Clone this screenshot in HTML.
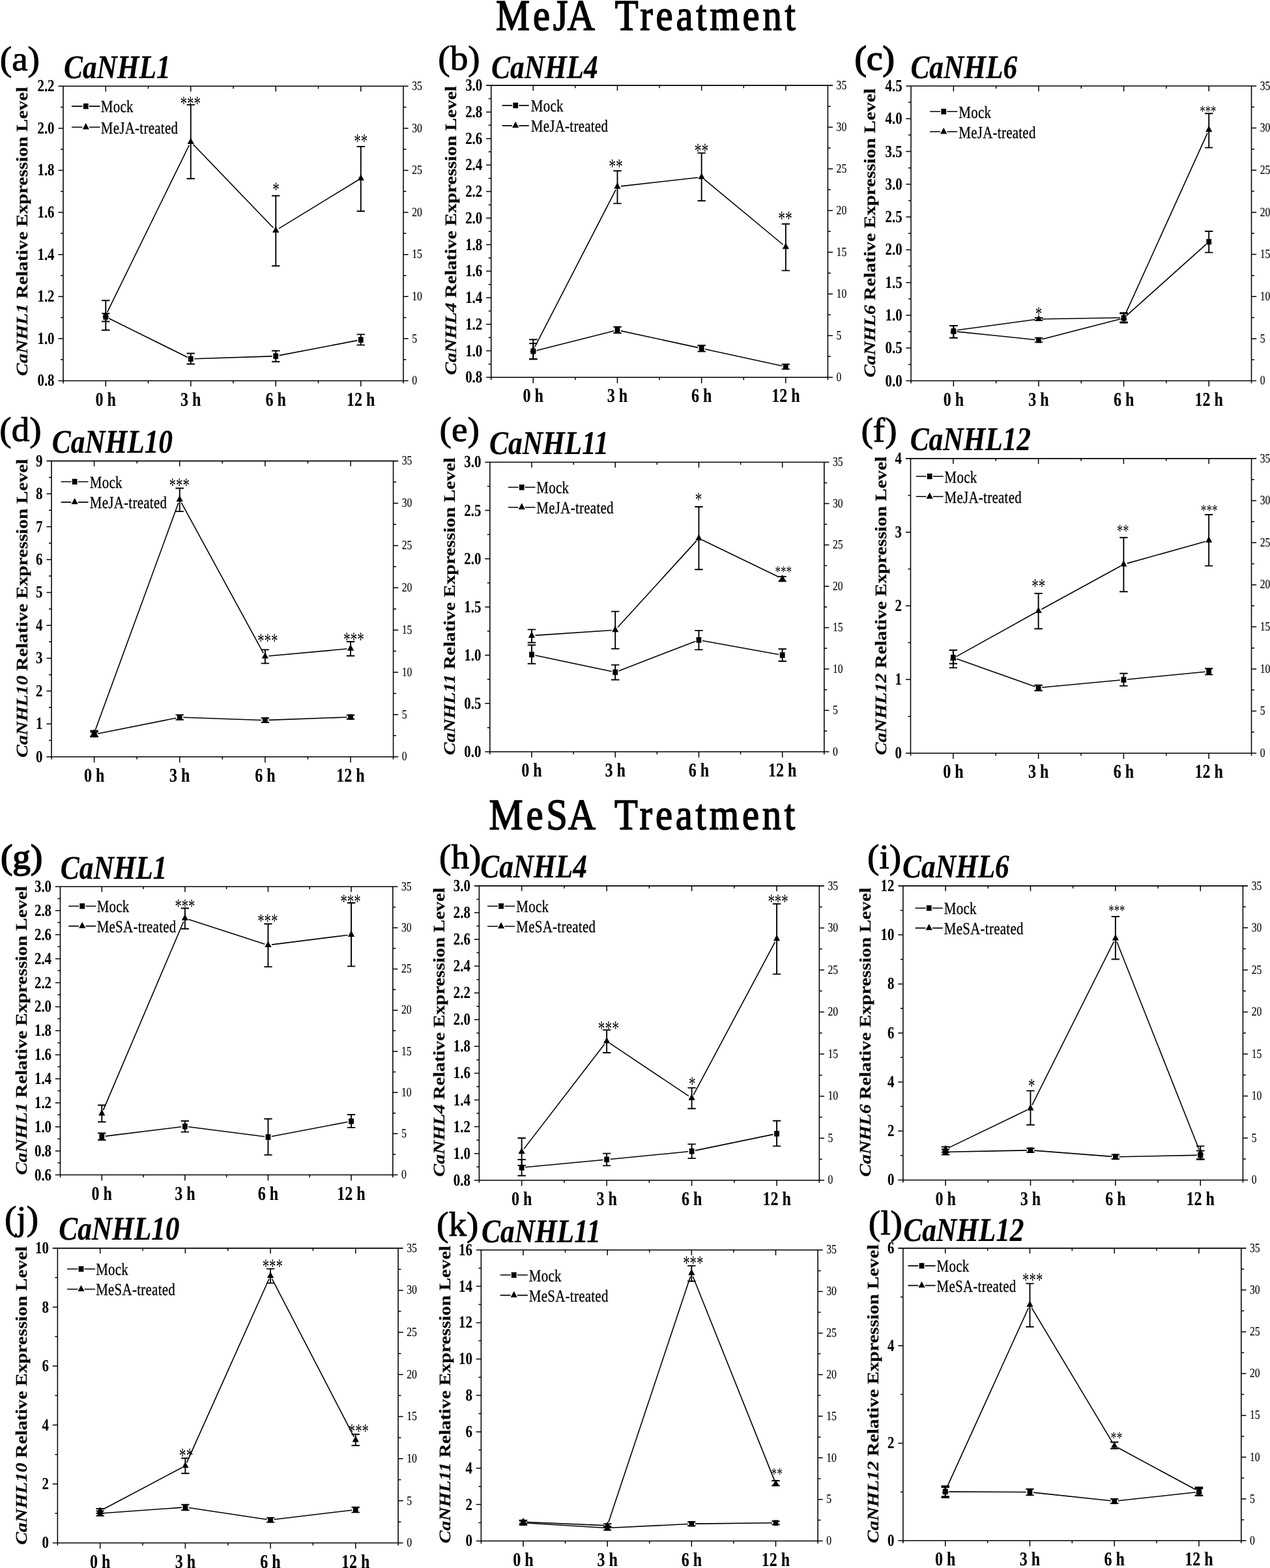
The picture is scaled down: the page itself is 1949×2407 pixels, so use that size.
<!DOCTYPE html>
<html lang="en">
<head>
<meta charset="utf-8">
<title>MeJA and MeSA Treatment - CaNHL relative expression</title>
<style>
html,body{margin:0;padding:0;background:#fff;}
body{width:1949px;height:2407px;overflow:hidden;}
svg{display:block;font-family:'Liberation Serif', 'DejaVu Serif', serif;fill:#000;}
svg path{stroke:#000;}
svg g[fill="#000"] path{stroke:none;}
</style>
</head>
<body>
<svg width="1949" height="2407" viewBox="0 0 1949 2407" text-rendering="geometricPrecision">
<rect x="0" y="0" width="1949" height="2407" fill="#fff"/>
<g>
<g fill="none" stroke="#000" stroke-width="1.55">
<path d="M89.40 132.30H626.60M89.40 584.40H626.60M97.00 132.30V588.40M619.00 132.30V588.40"/>
<path stroke-width="1.50" d="M162.25 584.40v8.80M162.25 132.30v8.20M292.75 584.40v8.80M292.75 132.30v8.20M423.25 584.40v8.80M423.25 132.30v8.20M553.75 584.40v8.80M553.75 132.30v8.20M227.50 584.40v4.00M227.50 132.30v4.00M358.00 584.40v4.00M358.00 132.30v4.00M488.50 584.40v4.00M488.50 132.30v4.00M97.00 552.11h-4.00M97.00 519.81h-7.60M97.00 487.52h-4.00M97.00 455.23h-7.60M97.00 422.94h-4.00M97.00 390.64h-7.60M97.00 358.35h-4.00M97.00 326.06h-7.60M97.00 293.76h-4.00M97.00 261.47h-7.60M97.00 229.18h-4.00M97.00 196.89h-7.60M97.00 164.59h-4.00M619.00 552.11h4.40M619.00 519.81h7.60M619.00 487.52h4.40M619.00 455.23h7.60M619.00 422.94h4.40M619.00 390.64h7.60M619.00 358.35h4.40M619.00 326.06h7.60M619.00 293.76h4.40M619.00 261.47h7.60M619.00 229.18h4.40M619.00 196.89h7.60M619.00 164.59h4.40"/>
<path stroke-width="1.60" d="M167.18 488.84L287.82 548.46M298.25 550.72L417.75 546.88M428.65 545.66L548.35 522.64"/>
<path d="M162.25 481.10V493.50M156.05 481.10H168.45M156.05 493.50H168.45" stroke-width="1.90"/>
<path d="M292.75 542.50V558.70M286.55 542.50H298.95M286.55 558.70H298.95" stroke-width="1.90"/>
<path d="M423.25 538.50V555.30M417.05 538.50H429.45M417.05 555.30H429.45" stroke-width="1.90"/>
<path d="M553.75 513.40V529.60M547.55 513.40H559.95M547.55 529.60H559.95" stroke-width="1.90"/>
<path stroke-width="1.60" d="M164.67 479.06L290.33 222.74M296.56 221.77L419.44 349.73M427.94 350.83L549.06 276.77"/>
<path d="M162.25 461.20V506.80M156.05 461.20H168.45M156.05 506.80H168.45" stroke-width="1.90"/>
<path d="M292.75 160.90V274.20M286.55 160.90H298.95M286.55 274.20H298.95" stroke-width="1.90"/>
<path d="M423.25 300.50V408.30M417.05 300.50H429.45M417.05 408.30H429.45" stroke-width="1.90"/>
<path d="M553.75 225.00V324.20M547.55 225.00H559.95M547.55 324.20H559.95" stroke-width="1.90"/>
<path stroke-width="1.60" d="M110.00 163.10H126.55M136.95 163.10H153.50M110.00 195.30H126.55M136.95 195.30H153.50"/>
</g>
<g fill="#000">
<rect x="158.35" y="482.10" width="7.80" height="8.60"/>
<path d="M162.25 477.60L167.35 487.20L157.15 487.20Z"/>
<rect x="288.85" y="546.60" width="7.80" height="8.60"/>
<path d="M292.75 211.40L297.85 221.00L287.65 221.00Z"/>
<rect x="419.35" y="542.40" width="7.80" height="8.60"/>
<path d="M423.25 347.30L428.35 356.90L418.15 356.90Z"/>
<rect x="549.85" y="517.30" width="7.80" height="8.60"/>
<path d="M553.75 267.50L558.85 277.10L548.65 277.10Z"/>
<rect x="127.85" y="158.80" width="7.80" height="8.60"/>
<path d="M131.75 188.90L136.85 198.50L126.65 198.50Z"/>
</g>
<g font-weight="bold">
<text transform="translate(83.50 592.40) scale(0.8000 1)" font-size="26.00" text-anchor="end" stroke="#000" stroke-width="0.12" stroke-linejoin="round">0.8</text>
<text transform="translate(83.50 527.81) scale(0.8000 1)" font-size="26.00" text-anchor="end" stroke="#000" stroke-width="0.12" stroke-linejoin="round">1.0</text>
<text transform="translate(83.50 463.23) scale(0.8000 1)" font-size="26.00" text-anchor="end" stroke="#000" stroke-width="0.12" stroke-linejoin="round">1.2</text>
<text transform="translate(83.50 398.64) scale(0.8000 1)" font-size="26.00" text-anchor="end" stroke="#000" stroke-width="0.12" stroke-linejoin="round">1.4</text>
<text transform="translate(83.50 334.06) scale(0.8000 1)" font-size="26.00" text-anchor="end" stroke="#000" stroke-width="0.12" stroke-linejoin="round">1.6</text>
<text transform="translate(83.50 269.47) scale(0.8000 1)" font-size="26.00" text-anchor="end" stroke="#000" stroke-width="0.12" stroke-linejoin="round">1.8</text>
<text transform="translate(83.50 204.89) scale(0.8000 1)" font-size="26.00" text-anchor="end" stroke="#000" stroke-width="0.12" stroke-linejoin="round">2.0</text>
<text transform="translate(83.50 140.30) scale(0.8000 1)" font-size="26.00" text-anchor="end" stroke="#000" stroke-width="0.12" stroke-linejoin="round">2.2</text>
<text transform="translate(162.25 622.50) scale(0.8000 1)" font-size="30.00" text-anchor="middle" stroke="#000" stroke-width="0.15" stroke-linejoin="round">0 h</text>
<text transform="translate(292.75 622.50) scale(0.8000 1)" font-size="30.00" text-anchor="middle" stroke="#000" stroke-width="0.15" stroke-linejoin="round">3 h</text>
<text transform="translate(423.25 622.50) scale(0.8000 1)" font-size="30.00" text-anchor="middle" stroke="#000" stroke-width="0.15" stroke-linejoin="round">6 h</text>
<text transform="translate(553.75 622.50) scale(0.8000 1)" font-size="30.00" text-anchor="middle" stroke="#000" stroke-width="0.15" stroke-linejoin="round">12 h</text>
</g>
<text transform="translate(632.20 590.10) scale(0.8000 1)" font-size="19.60" stroke="#000" stroke-width="0.15" stroke-linejoin="round">0</text>
<text transform="translate(632.20 525.51) scale(0.8000 1)" font-size="19.60" stroke="#000" stroke-width="0.15" stroke-linejoin="round">5</text>
<text transform="translate(632.20 460.93) scale(0.8000 1)" font-size="19.60" stroke="#000" stroke-width="0.15" stroke-linejoin="round">10</text>
<text transform="translate(632.20 396.34) scale(0.8000 1)" font-size="19.60" stroke="#000" stroke-width="0.15" stroke-linejoin="round">15</text>
<text transform="translate(632.20 331.76) scale(0.8000 1)" font-size="19.60" stroke="#000" stroke-width="0.15" stroke-linejoin="round">20</text>
<text transform="translate(632.20 267.17) scale(0.8000 1)" font-size="19.60" stroke="#000" stroke-width="0.15" stroke-linejoin="round">25</text>
<text transform="translate(632.20 202.59) scale(0.8000 1)" font-size="19.60" stroke="#000" stroke-width="0.15" stroke-linejoin="round">30</text>
<text transform="translate(632.20 138.00) scale(0.8000 1)" font-size="19.60" stroke="#000" stroke-width="0.15" stroke-linejoin="round">35</text>
<text transform="translate(154.80 172.40) scale(0.8050 1)" font-size="26.00" letter-spacing="0.35" stroke="#000" stroke-width="0.30" stroke-linejoin="round">Mock</text>
<text transform="translate(154.80 204.60) scale(0.8050 1)" font-size="26.00" letter-spacing="0.35" stroke="#000" stroke-width="0.30" stroke-linejoin="round">MeJA-treated</text>
<text transform="translate(292.30 169.11) scale(0.6660 1)" font-size="31.21" text-anchor="middle">***</text>
<text transform="translate(423.60 301.05) scale(0.6660 1)" font-size="31.50" text-anchor="middle">*</text>
<text transform="translate(553.80 226.96) scale(0.6660 1)" font-size="31.52" text-anchor="middle">**</text>
<text transform="translate(-0.20 107.70) scale(1.0400 1)" font-size="53.00" stroke="#000" stroke-width="1.00" stroke-linejoin="round">(a)</text>
<text transform="translate(98.00 120.00) scale(0.8492 1)" font-size="51.00" font-weight="bold" font-style="italic" stroke="#000" stroke-width="0.20" stroke-linejoin="round">CaNHL1</text>
<text transform="translate(42.20 355.30) rotate(-90) scale(1.1880 1)" font-size="24.80" text-anchor="middle" font-weight="bold" stroke="#000" stroke-width="0.15" stroke-linejoin="round"><tspan font-style="italic">CaNHL1</tspan> Relative Expression Level</text>
</g>
<g>
<g fill="none" stroke="#000" stroke-width="1.55">
<path d="M746.12 131.14H1278.02M746.12 579.33H1278.02M753.72 131.14V583.33M1270.42 131.14V583.33"/>
<path stroke-width="1.50" d="M818.30 579.33v8.80M818.30 131.14v8.20M947.48 579.33v8.80M947.48 131.14v8.20M1076.66 579.33v8.80M1076.66 131.14v8.20M1205.83 579.33v8.80M1205.83 131.14v8.20M882.89 579.33v4.00M882.89 131.14v4.00M1012.07 579.33v4.00M1012.07 131.14v4.00M1141.24 579.33v4.00M1141.24 131.14v4.00M753.72 558.95h-4.00M753.72 538.58h-7.60M753.72 518.21h-4.00M753.72 497.84h-7.60M753.72 477.47h-4.00M753.72 457.09h-7.60M753.72 436.72h-4.00M753.72 416.35h-7.60M753.72 395.98h-4.00M753.72 375.61h-7.60M753.72 355.23h-4.00M753.72 334.86h-7.60M753.72 314.49h-4.00M753.72 294.12h-7.60M753.72 273.75h-4.00M753.72 253.37h-7.60M753.72 233.00h-4.00M753.72 212.63h-7.60M753.72 192.26h-4.00M753.72 171.88h-7.60M753.72 151.51h-4.00M1270.42 547.31h4.40M1270.42 515.30h7.60M1270.42 483.29h4.40M1270.42 451.27h7.60M1270.42 419.26h4.40M1270.42 387.25h7.60M1270.42 355.23h4.40M1270.42 323.22h7.60M1270.42 291.21h4.40M1270.42 259.19h7.60M1270.42 227.18h4.40M1270.42 195.17h7.60M1270.42 163.15h4.40"/>
<path stroke-width="1.60" d="M823.64 537.92L942.15 508.03M952.85 507.86L1071.28 533.60M1082.03 535.94L1200.46 561.68"/>
<path d="M818.30 527.28V551.24M812.10 527.28H824.50M812.10 551.24H824.50" stroke-width="1.90"/>
<path d="M947.48 501.82V511.18M941.28 501.82H953.68M941.28 511.18H953.68" stroke-width="1.90"/>
<path d="M1076.66 530.28V539.64M1070.46 530.28H1082.86M1070.46 539.64H1082.86" stroke-width="1.90"/>
<path d="M1205.83 559.11V566.60M1199.63 559.11H1212.03M1199.63 566.60H1212.03" stroke-width="1.90"/>
<path stroke-width="1.60" d="M820.82 532.50L944.96 291.42M952.95 285.91L1071.19 272.54M1080.89 275.43L1201.60 375.50"/>
<path d="M818.30 521.29V551.24M812.10 521.29H824.50M812.10 551.24H824.50" stroke-width="1.90"/>
<path d="M947.48 262.19V312.36M941.28 262.19H953.68M941.28 312.36H953.68" stroke-width="1.90"/>
<path d="M1076.66 234.86V308.24M1070.46 234.86H1082.86M1070.46 308.24H1082.86" stroke-width="1.90"/>
<path d="M1205.83 343.81V415.33M1199.63 343.81H1212.03M1199.63 415.33H1212.03" stroke-width="1.90"/>
<path stroke-width="1.60" d="M770.56 161.84H785.96M796.36 161.84H811.75M770.56 192.92H785.96M796.36 192.92H811.75"/>
</g>
<g fill="#000">
<rect x="814.40" y="534.96" width="7.80" height="8.60"/>
<path d="M818.30 530.99L823.40 540.59L813.20 540.59Z"/>
<rect x="943.58" y="502.39" width="7.80" height="8.60"/>
<path d="M947.48 280.12L952.58 289.72L942.38 289.72Z"/>
<rect x="1072.76" y="530.47" width="7.80" height="8.60"/>
<path d="M1076.66 265.52L1081.76 275.12L1071.56 275.12Z"/>
<rect x="1201.93" y="558.55" width="7.80" height="8.60"/>
<path d="M1205.83 372.61L1210.93 382.21L1200.73 382.21Z"/>
<rect x="787.26" y="157.54" width="7.80" height="8.60"/>
<path d="M791.16 186.52L796.26 196.12L786.06 196.12Z"/>
</g>
<g font-weight="bold">
<text transform="translate(740.22 587.33) scale(0.8000 1)" font-size="26.00" text-anchor="end" stroke="#000" stroke-width="0.12" stroke-linejoin="round">0.8</text>
<text transform="translate(740.22 546.58) scale(0.8000 1)" font-size="26.00" text-anchor="end" stroke="#000" stroke-width="0.12" stroke-linejoin="round">1.0</text>
<text transform="translate(740.22 505.84) scale(0.8000 1)" font-size="26.00" text-anchor="end" stroke="#000" stroke-width="0.12" stroke-linejoin="round">1.2</text>
<text transform="translate(740.22 465.09) scale(0.8000 1)" font-size="26.00" text-anchor="end" stroke="#000" stroke-width="0.12" stroke-linejoin="round">1.4</text>
<text transform="translate(740.22 424.35) scale(0.8000 1)" font-size="26.00" text-anchor="end" stroke="#000" stroke-width="0.12" stroke-linejoin="round">1.6</text>
<text transform="translate(740.22 383.61) scale(0.8000 1)" font-size="26.00" text-anchor="end" stroke="#000" stroke-width="0.12" stroke-linejoin="round">1.8</text>
<text transform="translate(740.22 342.86) scale(0.8000 1)" font-size="26.00" text-anchor="end" stroke="#000" stroke-width="0.12" stroke-linejoin="round">2.0</text>
<text transform="translate(740.22 302.12) scale(0.8000 1)" font-size="26.00" text-anchor="end" stroke="#000" stroke-width="0.12" stroke-linejoin="round">2.2</text>
<text transform="translate(740.22 261.37) scale(0.8000 1)" font-size="26.00" text-anchor="end" stroke="#000" stroke-width="0.12" stroke-linejoin="round">2.4</text>
<text transform="translate(740.22 220.63) scale(0.8000 1)" font-size="26.00" text-anchor="end" stroke="#000" stroke-width="0.12" stroke-linejoin="round">2.6</text>
<text transform="translate(740.22 179.88) scale(0.8000 1)" font-size="26.00" text-anchor="end" stroke="#000" stroke-width="0.12" stroke-linejoin="round">2.8</text>
<text transform="translate(740.22 139.14) scale(0.8000 1)" font-size="26.00" text-anchor="end" stroke="#000" stroke-width="0.12" stroke-linejoin="round">3.0</text>
<text transform="translate(818.30 617.43) scale(0.8000 1)" font-size="30.00" text-anchor="middle" stroke="#000" stroke-width="0.15" stroke-linejoin="round">0 h</text>
<text transform="translate(947.48 617.43) scale(0.8000 1)" font-size="30.00" text-anchor="middle" stroke="#000" stroke-width="0.15" stroke-linejoin="round">3 h</text>
<text transform="translate(1076.66 617.43) scale(0.8000 1)" font-size="30.00" text-anchor="middle" stroke="#000" stroke-width="0.15" stroke-linejoin="round">6 h</text>
<text transform="translate(1205.83 617.43) scale(0.8000 1)" font-size="30.00" text-anchor="middle" stroke="#000" stroke-width="0.15" stroke-linejoin="round">12 h</text>
</g>
<text transform="translate(1283.62 585.03) scale(0.8000 1)" font-size="19.60" stroke="#000" stroke-width="0.15" stroke-linejoin="round">0</text>
<text transform="translate(1283.62 521.00) scale(0.8000 1)" font-size="19.60" stroke="#000" stroke-width="0.15" stroke-linejoin="round">5</text>
<text transform="translate(1283.62 456.97) scale(0.8000 1)" font-size="19.60" stroke="#000" stroke-width="0.15" stroke-linejoin="round">10</text>
<text transform="translate(1283.62 392.95) scale(0.8000 1)" font-size="19.60" stroke="#000" stroke-width="0.15" stroke-linejoin="round">15</text>
<text transform="translate(1283.62 328.92) scale(0.8000 1)" font-size="19.60" stroke="#000" stroke-width="0.15" stroke-linejoin="round">20</text>
<text transform="translate(1283.62 264.89) scale(0.8000 1)" font-size="19.60" stroke="#000" stroke-width="0.15" stroke-linejoin="round">25</text>
<text transform="translate(1283.62 200.87) scale(0.8000 1)" font-size="19.60" stroke="#000" stroke-width="0.15" stroke-linejoin="round">30</text>
<text transform="translate(1283.62 136.84) scale(0.8000 1)" font-size="19.60" stroke="#000" stroke-width="0.15" stroke-linejoin="round">35</text>
<text transform="translate(814.75 171.14) scale(0.8050 1)" font-size="26.00" letter-spacing="0.35" stroke="#000" stroke-width="0.30" stroke-linejoin="round">Mock</text>
<text transform="translate(814.75 202.22) scale(0.8050 1)" font-size="26.00" letter-spacing="0.35" stroke="#000" stroke-width="0.30" stroke-linejoin="round">MeJA-treated</text>
<text transform="translate(945.05 266.28) scale(0.6660 1)" font-size="32.50" text-anchor="middle">**</text>
<text transform="translate(1076.47 241.87) scale(0.6660 1)" font-size="32.35" text-anchor="middle">**</text>
<text transform="translate(1204.90 345.59) scale(0.6660 1)" font-size="32.35" text-anchor="middle">**</text>
<text transform="translate(672.30 107.00) scale(1.0400 1)" font-size="53.00" stroke="#000" stroke-width="1.00" stroke-linejoin="round">(b)</text>
<text transform="translate(754.09 119.91) scale(0.8492 1)" font-size="51.00" font-weight="bold" font-style="italic" stroke="#000" stroke-width="0.20" stroke-linejoin="round">CaNHL4</text>
<text transform="translate(700.25 353.92) rotate(-90) scale(1.1880 1)" font-size="24.80" text-anchor="middle" font-weight="bold" stroke="#000" stroke-width="0.15" stroke-linejoin="round"><tspan font-style="italic">CaNHL4</tspan> Relative Expression Level</text>
</g>
<g>
<g fill="none" stroke="#000" stroke-width="1.55">
<path d="M1390.44 131.93H1928.14M1390.44 584.57H1928.14M1398.04 131.93V588.57M1920.54 131.93V588.57"/>
<path stroke-width="1.50" d="M1463.35 584.57v8.80M1463.35 131.93v8.20M1593.98 584.57v8.80M1593.98 131.93v8.20M1724.60 584.57v8.80M1724.60 131.93v8.20M1855.23 584.57v8.80M1855.23 131.93v8.20M1528.66 584.57v4.00M1528.66 131.93v4.00M1659.29 584.57v4.00M1659.29 131.93v4.00M1789.92 584.57v4.00M1789.92 131.93v4.00M1398.04 559.42h-4.00M1398.04 534.27h-7.60M1398.04 509.13h-4.00M1398.04 483.98h-7.60M1398.04 458.83h-4.00M1398.04 433.69h-7.60M1398.04 408.54h-4.00M1398.04 383.39h-7.60M1398.04 358.25h-4.00M1398.04 333.10h-7.60M1398.04 307.95h-4.00M1398.04 282.81h-7.60M1398.04 257.66h-4.00M1398.04 232.51h-7.60M1398.04 207.37h-4.00M1398.04 182.22h-7.60M1398.04 157.07h-4.00M1920.54 552.24h4.40M1920.54 519.90h7.60M1920.54 487.57h4.40M1920.54 455.24h7.60M1920.54 422.91h4.40M1920.54 390.58h7.60M1920.54 358.25h4.40M1920.54 325.92h7.60M1920.54 293.58h4.40M1920.54 261.25h7.60M1920.54 228.92h4.40M1920.54 196.59h7.60M1920.54 164.26h4.40"/>
<path stroke-width="1.60" d="M1468.82 509.12L1588.50 521.47M1599.30 520.67L1719.28 489.71M1728.70 484.67L1851.14 374.82"/>
<path d="M1463.35 499.95V518.67M1457.15 499.95H1469.55M1457.15 518.67H1469.55" stroke-width="1.90"/>
<path d="M1593.98 518.67V525.41M1587.78 518.67H1600.18M1587.78 525.41H1600.18" stroke-width="1.90"/>
<path d="M1724.60 480.10V495.46M1718.40 480.10H1730.80M1718.40 495.46H1730.80" stroke-width="1.90"/>
<path d="M1855.23 355.05V387.62M1849.03 355.05H1861.43M1849.03 387.62H1861.43" stroke-width="1.90"/>
<path stroke-width="1.60" d="M1468.80 506.70L1588.53 490.57M1599.48 489.74L1719.10 487.69M1726.87 482.58L1852.96 204.30"/>
<path d="M1463.35 499.95V518.67M1457.15 499.95H1469.55M1457.15 518.67H1469.55" stroke-width="1.90"/>
<path d="M1593.98 487.97V491.71M1587.78 487.97H1600.18M1587.78 491.71H1600.18" stroke-width="1.90"/>
<path d="M1724.60 481.23V494.33M1718.40 481.23H1730.80M1718.40 494.33H1730.80" stroke-width="1.90"/>
<path d="M1855.23 174.20V226.62M1849.03 174.20H1861.43M1849.03 226.62H1861.43" stroke-width="1.90"/>
<path stroke-width="1.60" d="M1427.05 171.20H1443.01M1453.41 171.20H1469.36M1427.05 202.28H1443.01M1453.41 202.28H1469.36"/>
</g>
<g fill="#000">
<rect x="1459.45" y="504.26" width="7.80" height="8.60"/>
<path d="M1463.35 501.03L1468.45 510.63L1458.25 510.63Z"/>
<rect x="1590.08" y="517.74" width="7.80" height="8.60"/>
<path d="M1593.98 483.44L1599.08 493.04L1588.88 493.04Z"/>
<rect x="1720.70" y="484.04" width="7.80" height="8.60"/>
<path d="M1724.60 481.19L1729.70 490.79L1719.50 490.79Z"/>
<rect x="1851.33" y="366.85" width="7.80" height="8.60"/>
<path d="M1855.23 192.88L1860.33 202.48L1850.13 202.48Z"/>
<rect x="1444.31" y="166.90" width="7.80" height="8.60"/>
<path d="M1448.21 195.88L1453.31 205.48L1443.11 205.48Z"/>
</g>
<g font-weight="bold">
<text transform="translate(1384.54 592.57) scale(0.8000 1)" font-size="26.00" text-anchor="end" stroke="#000" stroke-width="0.12" stroke-linejoin="round">0.0</text>
<text transform="translate(1384.54 542.27) scale(0.8000 1)" font-size="26.00" text-anchor="end" stroke="#000" stroke-width="0.12" stroke-linejoin="round">0.5</text>
<text transform="translate(1384.54 491.98) scale(0.8000 1)" font-size="26.00" text-anchor="end" stroke="#000" stroke-width="0.12" stroke-linejoin="round">1.0</text>
<text transform="translate(1384.54 441.69) scale(0.8000 1)" font-size="26.00" text-anchor="end" stroke="#000" stroke-width="0.12" stroke-linejoin="round">1.5</text>
<text transform="translate(1384.54 391.39) scale(0.8000 1)" font-size="26.00" text-anchor="end" stroke="#000" stroke-width="0.12" stroke-linejoin="round">2.0</text>
<text transform="translate(1384.54 341.10) scale(0.8000 1)" font-size="26.00" text-anchor="end" stroke="#000" stroke-width="0.12" stroke-linejoin="round">2.5</text>
<text transform="translate(1384.54 290.81) scale(0.8000 1)" font-size="26.00" text-anchor="end" stroke="#000" stroke-width="0.12" stroke-linejoin="round">3.0</text>
<text transform="translate(1384.54 240.51) scale(0.8000 1)" font-size="26.00" text-anchor="end" stroke="#000" stroke-width="0.12" stroke-linejoin="round">3.5</text>
<text transform="translate(1384.54 190.22) scale(0.8000 1)" font-size="26.00" text-anchor="end" stroke="#000" stroke-width="0.12" stroke-linejoin="round">4.0</text>
<text transform="translate(1384.54 139.93) scale(0.8000 1)" font-size="26.00" text-anchor="end" stroke="#000" stroke-width="0.12" stroke-linejoin="round">4.5</text>
<text transform="translate(1463.35 622.67) scale(0.8000 1)" font-size="30.00" text-anchor="middle" stroke="#000" stroke-width="0.15" stroke-linejoin="round">0 h</text>
<text transform="translate(1593.98 622.67) scale(0.8000 1)" font-size="30.00" text-anchor="middle" stroke="#000" stroke-width="0.15" stroke-linejoin="round">3 h</text>
<text transform="translate(1724.60 622.67) scale(0.8000 1)" font-size="30.00" text-anchor="middle" stroke="#000" stroke-width="0.15" stroke-linejoin="round">6 h</text>
<text transform="translate(1855.23 622.67) scale(0.8000 1)" font-size="30.00" text-anchor="middle" stroke="#000" stroke-width="0.15" stroke-linejoin="round">12 h</text>
</g>
<text transform="translate(1933.74 590.27) scale(0.8000 1)" font-size="19.60" stroke="#000" stroke-width="0.15" stroke-linejoin="round">0</text>
<text transform="translate(1933.74 525.60) scale(0.8000 1)" font-size="19.60" stroke="#000" stroke-width="0.15" stroke-linejoin="round">5</text>
<text transform="translate(1933.74 460.94) scale(0.8000 1)" font-size="19.60" stroke="#000" stroke-width="0.15" stroke-linejoin="round">10</text>
<text transform="translate(1933.74 396.28) scale(0.8000 1)" font-size="19.60" stroke="#000" stroke-width="0.15" stroke-linejoin="round">15</text>
<text transform="translate(1933.74 331.62) scale(0.8000 1)" font-size="19.60" stroke="#000" stroke-width="0.15" stroke-linejoin="round">20</text>
<text transform="translate(1933.74 266.95) scale(0.8000 1)" font-size="19.60" stroke="#000" stroke-width="0.15" stroke-linejoin="round">25</text>
<text transform="translate(1933.74 202.29) scale(0.8000 1)" font-size="19.60" stroke="#000" stroke-width="0.15" stroke-linejoin="round">30</text>
<text transform="translate(1933.74 137.63) scale(0.8000 1)" font-size="19.60" stroke="#000" stroke-width="0.15" stroke-linejoin="round">35</text>
<text transform="translate(1471.24 180.50) scale(0.8050 1)" font-size="26.00" letter-spacing="0.35" stroke="#000" stroke-width="0.30" stroke-linejoin="round">Mock</text>
<text transform="translate(1471.24 211.58) scale(0.8050 1)" font-size="26.00" letter-spacing="0.35" stroke="#000" stroke-width="0.30" stroke-linejoin="round">MeJA-treated</text>
<text transform="translate(1594.05 491.59) scale(0.6660 1)" font-size="31.50" text-anchor="middle">*</text>
<text transform="translate(1853.90 178.98) scale(0.6660 1)" font-size="25.22" text-anchor="middle">***</text>
<text transform="translate(1311.60 107.00) scale(1.0400 1)" font-size="53.00" stroke="#000" stroke-width="1.70" stroke-linejoin="round">(c)</text>
<text transform="translate(1397.47 119.91) scale(0.8492 1)" font-size="51.00" font-weight="bold" font-style="italic" stroke="#000" stroke-width="0.20" stroke-linejoin="round">CaNHL6</text>
<text transform="translate(1343.18 357.67) rotate(-90) scale(1.1880 1)" font-size="24.80" text-anchor="middle" font-weight="bold" stroke="#000" stroke-width="0.15" stroke-linejoin="round"><tspan font-style="italic">CaNHL6</tspan> Relative Expression Level</text>
</g>
<g>
<g fill="none" stroke="#000" stroke-width="1.55">
<path d="M71.40 707.62H611.17M71.40 1161.79H611.17M79.00 707.62V1165.79M603.57 707.62V1165.79"/>
<path stroke-width="1.50" d="M144.57 1161.79v8.80M144.57 707.62v8.20M275.72 1161.79v8.80M275.72 707.62v8.20M406.86 1161.79v8.80M406.86 707.62v8.20M538.00 1161.79v8.80M538.00 707.62v8.20M210.15 1161.79v4.00M210.15 707.62v4.00M341.29 1161.79v4.00M341.29 707.62v4.00M472.43 1161.79v4.00M472.43 707.62v4.00M79.00 1136.56h-4.00M79.00 1111.33h-7.60M79.00 1086.10h-4.00M79.00 1060.86h-7.60M79.00 1035.63h-4.00M79.00 1010.40h-7.60M79.00 985.17h-4.00M79.00 959.94h-7.60M79.00 934.70h-4.00M79.00 909.47h-7.60M79.00 884.24h-4.00M79.00 859.01h-7.60M79.00 833.78h-4.00M79.00 808.54h-7.60M79.00 783.31h-4.00M79.00 758.08h-7.60M79.00 732.85h-4.00M603.57 1129.35h4.40M603.57 1096.91h7.60M603.57 1064.47h4.40M603.57 1032.03h7.60M603.57 999.59h4.40M603.57 967.14h7.60M603.57 934.70h4.40M603.57 902.26h7.60M603.57 869.82h4.40M603.57 837.38h7.60M603.57 804.94h4.40M603.57 772.50h7.60M603.57 740.06h4.40"/>
<path stroke-width="1.60" d="M149.97 1126.27L270.32 1102.21M281.21 1101.32L401.36 1105.44M412.35 1105.42L532.50 1100.96"/>
<path d="M144.57 1123.60V1131.09M138.37 1123.60H150.77M138.37 1131.09H150.77" stroke-width="1.90"/>
<path d="M275.72 1097.39V1104.88M269.52 1097.39H281.92M269.52 1104.88H281.92" stroke-width="1.90"/>
<path d="M406.86 1102.26V1109.00M400.66 1102.26H413.06M400.66 1109.00H413.06" stroke-width="1.90"/>
<path d="M538.00 1097.76V1103.76M531.80 1097.76H544.20M531.80 1103.76H544.20" stroke-width="1.90"/>
<path stroke-width="1.60" d="M146.46 1120.31L273.83 771.94M278.35 771.60L404.23 1002.70M412.34 1007.03L532.52 996.05"/>
<path d="M144.57 1121.73V1129.97M138.37 1121.73H150.77M138.37 1129.97H150.77" stroke-width="1.90"/>
<path d="M275.72 749.55V785.12M269.52 749.55H281.92M269.52 785.12H281.92" stroke-width="1.90"/>
<path d="M406.86 997.42V1018.39M400.66 997.42H413.06M400.66 1018.39H413.06" stroke-width="1.90"/>
<path d="M538.00 985.06V1006.78M531.80 985.06H544.20M531.80 1006.78H544.20" stroke-width="1.90"/>
<path stroke-width="1.60" d="M93.61 739.44H109.37M119.77 739.44H135.54M93.61 770.89H109.37M119.77 770.89H135.54"/>
</g>
<g fill="#000">
<rect x="140.67" y="1123.04" width="7.80" height="8.60"/>
<path d="M144.57 1119.07L149.67 1128.67L139.47 1128.67Z"/>
<rect x="271.82" y="1096.83" width="7.80" height="8.60"/>
<path d="M275.72 760.37L280.82 769.97L270.62 769.97Z"/>
<rect x="402.96" y="1101.33" width="7.80" height="8.60"/>
<path d="M406.86 1001.13L411.96 1010.73L401.76 1010.73Z"/>
<rect x="534.10" y="1096.46" width="7.80" height="8.60"/>
<path d="M538.00 989.14L543.10 998.74L532.90 998.74Z"/>
<rect x="110.67" y="735.14" width="7.80" height="8.60"/>
<path d="M114.57 764.49L119.67 774.09L109.47 774.09Z"/>
</g>
<g font-weight="bold">
<text transform="translate(65.50 1169.79) scale(0.8000 1)" font-size="26.00" text-anchor="end" stroke="#000" stroke-width="0.12" stroke-linejoin="round">0</text>
<text transform="translate(65.50 1119.33) scale(0.8000 1)" font-size="26.00" text-anchor="end" stroke="#000" stroke-width="0.12" stroke-linejoin="round">1</text>
<text transform="translate(65.50 1068.86) scale(0.8000 1)" font-size="26.00" text-anchor="end" stroke="#000" stroke-width="0.12" stroke-linejoin="round">2</text>
<text transform="translate(65.50 1018.40) scale(0.8000 1)" font-size="26.00" text-anchor="end" stroke="#000" stroke-width="0.12" stroke-linejoin="round">3</text>
<text transform="translate(65.50 967.94) scale(0.8000 1)" font-size="26.00" text-anchor="end" stroke="#000" stroke-width="0.12" stroke-linejoin="round">4</text>
<text transform="translate(65.50 917.47) scale(0.8000 1)" font-size="26.00" text-anchor="end" stroke="#000" stroke-width="0.12" stroke-linejoin="round">5</text>
<text transform="translate(65.50 867.01) scale(0.8000 1)" font-size="26.00" text-anchor="end" stroke="#000" stroke-width="0.12" stroke-linejoin="round">6</text>
<text transform="translate(65.50 816.54) scale(0.8000 1)" font-size="26.00" text-anchor="end" stroke="#000" stroke-width="0.12" stroke-linejoin="round">7</text>
<text transform="translate(65.50 766.08) scale(0.8000 1)" font-size="26.00" text-anchor="end" stroke="#000" stroke-width="0.12" stroke-linejoin="round">8</text>
<text transform="translate(65.50 715.62) scale(0.8000 1)" font-size="26.00" text-anchor="end" stroke="#000" stroke-width="0.12" stroke-linejoin="round">9</text>
<text transform="translate(144.57 1199.89) scale(0.8000 1)" font-size="30.00" text-anchor="middle" stroke="#000" stroke-width="0.15" stroke-linejoin="round">0 h</text>
<text transform="translate(275.72 1199.89) scale(0.8000 1)" font-size="30.00" text-anchor="middle" stroke="#000" stroke-width="0.15" stroke-linejoin="round">3 h</text>
<text transform="translate(406.86 1199.89) scale(0.8000 1)" font-size="30.00" text-anchor="middle" stroke="#000" stroke-width="0.15" stroke-linejoin="round">6 h</text>
<text transform="translate(538.00 1199.89) scale(0.8000 1)" font-size="30.00" text-anchor="middle" stroke="#000" stroke-width="0.15" stroke-linejoin="round">12 h</text>
</g>
<text transform="translate(616.77 1167.49) scale(0.8000 1)" font-size="19.60" stroke="#000" stroke-width="0.15" stroke-linejoin="round">0</text>
<text transform="translate(616.77 1102.61) scale(0.8000 1)" font-size="19.60" stroke="#000" stroke-width="0.15" stroke-linejoin="round">5</text>
<text transform="translate(616.77 1037.73) scale(0.8000 1)" font-size="19.60" stroke="#000" stroke-width="0.15" stroke-linejoin="round">10</text>
<text transform="translate(616.77 972.84) scale(0.8000 1)" font-size="19.60" stroke="#000" stroke-width="0.15" stroke-linejoin="round">15</text>
<text transform="translate(616.77 907.96) scale(0.8000 1)" font-size="19.60" stroke="#000" stroke-width="0.15" stroke-linejoin="round">20</text>
<text transform="translate(616.77 843.08) scale(0.8000 1)" font-size="19.60" stroke="#000" stroke-width="0.15" stroke-linejoin="round">25</text>
<text transform="translate(616.77 778.20) scale(0.8000 1)" font-size="19.60" stroke="#000" stroke-width="0.15" stroke-linejoin="round">30</text>
<text transform="translate(616.77 713.32) scale(0.8000 1)" font-size="19.60" stroke="#000" stroke-width="0.15" stroke-linejoin="round">35</text>
<text transform="translate(137.79 748.74) scale(0.8050 1)" font-size="26.00" letter-spacing="0.35" stroke="#000" stroke-width="0.30" stroke-linejoin="round">Mock</text>
<text transform="translate(137.79 780.19) scale(0.8050 1)" font-size="26.00" letter-spacing="0.35" stroke="#000" stroke-width="0.30" stroke-linejoin="round">MeJA-treated</text>
<text transform="translate(275.20 755.28) scale(0.6660 1)" font-size="31.21" text-anchor="middle">***</text>
<text transform="translate(410.74 994.36) scale(0.6660 1)" font-size="31.63" text-anchor="middle">***</text>
<text transform="translate(542.91 992.49) scale(0.6660 1)" font-size="31.63" text-anchor="middle">***</text>
<text transform="translate(-0.70 677.10) scale(1.0400 1)" font-size="53.00" stroke="#000" stroke-width="1.00" stroke-linejoin="round">(d)</text>
<text transform="translate(79.75 694.88) scale(0.8492 1)" font-size="51.00" font-weight="bold" font-style="italic" stroke="#000" stroke-width="0.20" stroke-linejoin="round">CaNHL10</text>
<text transform="translate(41.59 933.77) rotate(-90) scale(1.1880 1)" font-size="24.80" text-anchor="middle" font-weight="bold" stroke="#000" stroke-width="0.15" stroke-linejoin="round"><tspan font-style="italic">CaNHL10</tspan> Relative Expression Level</text>
</g>
<g>
<g fill="none" stroke="#000" stroke-width="1.55">
<path d="M744.24 709.49H1272.40M744.24 1153.93H1272.40M751.84 709.49V1157.93M1264.80 709.49V1157.93"/>
<path stroke-width="1.50" d="M815.96 1153.93v8.80M815.96 709.49v8.20M944.20 1153.93v8.80M944.20 709.49v8.20M1072.44 1153.93v8.80M1072.44 709.49v8.20M1200.68 1153.93v8.80M1200.68 709.49v8.20M880.08 1153.93v4.00M880.08 709.49v4.00M1008.32 1153.93v4.00M1008.32 709.49v4.00M1136.56 1153.93v4.00M1136.56 709.49v4.00M751.84 1116.89h-4.00M751.84 1079.86h-7.60M751.84 1042.82h-4.00M751.84 1005.78h-7.60M751.84 968.74h-4.00M751.84 931.71h-7.60M751.84 894.67h-4.00M751.84 857.63h-7.60M751.84 820.60h-4.00M751.84 783.56h-7.60M751.84 746.52h-4.00M1264.80 1122.18h4.40M1264.80 1090.44h7.60M1264.80 1058.69h4.40M1264.80 1026.95h7.60M1264.80 995.20h4.40M1264.80 963.45h7.60M1264.80 931.71h4.40M1264.80 899.96h7.60M1264.80 868.22h4.40M1264.80 836.47h7.60M1264.80 804.72h4.40M1264.80 772.98h7.60M1264.80 741.23h4.40"/>
<path stroke-width="1.60" d="M821.35 1006.04L938.82 1030.73M949.34 1029.89L1067.31 984.42M1077.86 983.42L1195.27 1004.68"/>
<path d="M815.96 990.31V1018.76M809.76 990.31H822.16M809.76 1018.76H822.16" stroke-width="1.90"/>
<path d="M944.20 1020.63V1043.47M938.00 1020.63H950.40M938.00 1043.47H950.40" stroke-width="1.90"/>
<path d="M1072.44 967.84V997.42M1066.24 967.84H1078.64M1066.24 997.42H1078.64" stroke-width="1.90"/>
<path d="M1200.68 996.30V1015.02M1194.48 996.30H1206.88M1194.48 1015.02H1206.88" stroke-width="1.90"/>
<path stroke-width="1.60" d="M821.45 975.33L938.72 967.46M947.91 963.03L1068.74 830.37M1077.39 828.71L1195.73 886.06"/>
<path d="M815.96 966.34V986.56M809.76 966.34H822.16M809.76 986.56H822.16" stroke-width="1.90"/>
<path d="M944.20 938.63V995.92M938.00 938.63H950.40M938.00 995.92H950.40" stroke-width="1.90"/>
<path d="M1072.44 778.01V874.23M1066.24 778.01H1078.64M1066.24 874.23H1078.64" stroke-width="1.90"/>
<path d="M1200.68 885.09V892.21M1194.48 885.09H1206.88M1194.48 892.21H1206.88" stroke-width="1.90"/>
<path stroke-width="1.60" d="M779.93 748.05H795.51M805.91 748.05H821.49M779.93 778.76H795.51M805.91 778.76H821.49"/>
</g>
<g fill="#000">
<rect x="812.06" y="1000.61" width="7.80" height="8.60"/>
<path d="M815.96 969.30L821.06 978.90L810.86 978.90Z"/>
<rect x="940.30" y="1027.57" width="7.80" height="8.60"/>
<path d="M944.20 960.69L949.30 970.29L939.10 970.29Z"/>
<rect x="1068.54" y="978.14" width="7.80" height="8.60"/>
<path d="M1072.44 819.90L1077.54 829.50L1067.34 829.50Z"/>
<rect x="1196.78" y="1001.36" width="7.80" height="8.60"/>
<path d="M1200.68 882.06L1205.78 891.66L1195.58 891.66Z"/>
<rect x="796.81" y="743.75" width="7.80" height="8.60"/>
<path d="M800.71 772.35L805.81 781.95L795.61 781.95Z"/>
</g>
<g font-weight="bold">
<text transform="translate(738.34 1161.93) scale(0.8000 1)" font-size="26.00" text-anchor="end" stroke="#000" stroke-width="0.12" stroke-linejoin="round">0.0</text>
<text transform="translate(738.34 1087.86) scale(0.8000 1)" font-size="26.00" text-anchor="end" stroke="#000" stroke-width="0.12" stroke-linejoin="round">0.5</text>
<text transform="translate(738.34 1013.78) scale(0.8000 1)" font-size="26.00" text-anchor="end" stroke="#000" stroke-width="0.12" stroke-linejoin="round">1.0</text>
<text transform="translate(738.34 939.71) scale(0.8000 1)" font-size="26.00" text-anchor="end" stroke="#000" stroke-width="0.12" stroke-linejoin="round">1.5</text>
<text transform="translate(738.34 865.63) scale(0.8000 1)" font-size="26.00" text-anchor="end" stroke="#000" stroke-width="0.12" stroke-linejoin="round">2.0</text>
<text transform="translate(738.34 791.56) scale(0.8000 1)" font-size="26.00" text-anchor="end" stroke="#000" stroke-width="0.12" stroke-linejoin="round">2.5</text>
<text transform="translate(738.34 717.49) scale(0.8000 1)" font-size="26.00" text-anchor="end" stroke="#000" stroke-width="0.12" stroke-linejoin="round">3.0</text>
<text transform="translate(815.96 1192.03) scale(0.8000 1)" font-size="30.00" text-anchor="middle" stroke="#000" stroke-width="0.15" stroke-linejoin="round">0 h</text>
<text transform="translate(944.20 1192.03) scale(0.8000 1)" font-size="30.00" text-anchor="middle" stroke="#000" stroke-width="0.15" stroke-linejoin="round">3 h</text>
<text transform="translate(1072.44 1192.03) scale(0.8000 1)" font-size="30.00" text-anchor="middle" stroke="#000" stroke-width="0.15" stroke-linejoin="round">6 h</text>
<text transform="translate(1200.68 1192.03) scale(0.8000 1)" font-size="30.00" text-anchor="middle" stroke="#000" stroke-width="0.15" stroke-linejoin="round">12 h</text>
</g>
<text transform="translate(1278.00 1159.63) scale(0.8000 1)" font-size="19.60" stroke="#000" stroke-width="0.15" stroke-linejoin="round">0</text>
<text transform="translate(1278.00 1096.14) scale(0.8000 1)" font-size="19.60" stroke="#000" stroke-width="0.15" stroke-linejoin="round">5</text>
<text transform="translate(1278.00 1032.65) scale(0.8000 1)" font-size="19.60" stroke="#000" stroke-width="0.15" stroke-linejoin="round">10</text>
<text transform="translate(1278.00 969.15) scale(0.8000 1)" font-size="19.60" stroke="#000" stroke-width="0.15" stroke-linejoin="round">15</text>
<text transform="translate(1278.00 905.66) scale(0.8000 1)" font-size="19.60" stroke="#000" stroke-width="0.15" stroke-linejoin="round">20</text>
<text transform="translate(1278.00 842.17) scale(0.8000 1)" font-size="19.60" stroke="#000" stroke-width="0.15" stroke-linejoin="round">25</text>
<text transform="translate(1278.00 778.68) scale(0.8000 1)" font-size="19.60" stroke="#000" stroke-width="0.15" stroke-linejoin="round">30</text>
<text transform="translate(1278.00 715.19) scale(0.8000 1)" font-size="19.60" stroke="#000" stroke-width="0.15" stroke-linejoin="round">35</text>
<text transform="translate(823.36 757.35) scale(0.8050 1)" font-size="26.00" letter-spacing="0.35" stroke="#000" stroke-width="0.30" stroke-linejoin="round">Mock</text>
<text transform="translate(823.36 788.06) scale(0.8050 1)" font-size="26.00" letter-spacing="0.35" stroke="#000" stroke-width="0.30" stroke-linejoin="round">MeJA-treated</text>
<text transform="translate(1071.98 777.13) scale(0.6660 1)" font-size="31.50" text-anchor="middle">*</text>
<text transform="translate(1202.28 885.95) scale(0.6660 1)" font-size="25.65" text-anchor="middle">***</text>
<text transform="translate(674.60 677.40) scale(1.0400 1)" font-size="53.00" stroke="#000" stroke-width="1.00" stroke-linejoin="round">(e)</text>
<text transform="translate(751.09 696.76) scale(0.8492 1)" font-size="51.00" font-weight="bold" font-style="italic" stroke="#000" stroke-width="0.20" stroke-linejoin="round">CaNHL11</text>
<text transform="translate(697.88 930.77) rotate(-90) scale(1.1880 1)" font-size="24.80" text-anchor="middle" font-weight="bold" stroke="#000" stroke-width="0.15" stroke-linejoin="round"><tspan font-style="italic">CaNHL11</tspan> Relative Expression Level</text>
</g>
<g>
<g fill="none" stroke="#000" stroke-width="1.55">
<path d="M1389.87 703.87H1928.14M1389.87 1156.18H1928.14M1397.47 703.87V1160.18M1920.54 703.87V1160.18"/>
<path stroke-width="1.50" d="M1462.86 1156.18v8.80M1462.86 703.87v8.20M1593.62 1156.18v8.80M1593.62 703.87v8.20M1724.39 1156.18v8.80M1724.39 703.87v8.20M1855.16 1156.18v8.80M1855.16 703.87v8.20M1528.24 1156.18v4.00M1528.24 703.87v4.00M1659.01 1156.18v4.00M1659.01 703.87v4.00M1789.78 1156.18v4.00M1789.78 703.87v4.00M1397.47 1099.64h-4.00M1397.47 1043.10h-7.60M1397.47 986.56h-4.00M1397.47 930.02h-7.60M1397.47 873.49h-4.00M1397.47 816.95h-7.60M1397.47 760.41h-4.00M1920.54 1123.87h4.40M1920.54 1091.56h7.60M1920.54 1059.25h4.40M1920.54 1026.95h7.60M1920.54 994.64h4.40M1920.54 962.33h7.60M1920.54 930.02h4.40M1920.54 897.72h7.60M1920.54 865.41h4.40M1920.54 833.10h7.60M1920.54 800.79h4.40M1920.54 768.49h7.60M1920.54 736.18h4.40"/>
<path stroke-width="1.60" d="M1468.04 1011.24L1588.44 1053.99M1599.10 1055.31L1718.92 1043.99M1729.87 1042.94L1849.69 1031.28"/>
<path d="M1462.86 998.17V1018.76M1456.66 998.17H1469.06M1456.66 1018.76H1469.06" stroke-width="1.90"/>
<path d="M1593.62 1051.71V1060.32M1587.42 1051.71H1599.82M1587.42 1060.32H1599.82" stroke-width="1.90"/>
<path d="M1724.39 1033.74V1052.83M1718.19 1033.74H1730.59M1718.19 1052.83H1730.59" stroke-width="1.90"/>
<path d="M1855.16 1026.25V1035.61M1848.96 1026.25H1861.36M1848.96 1035.61H1861.36" stroke-width="1.90"/>
<path stroke-width="1.60" d="M1467.67 1007.85L1588.82 940.56M1598.45 935.25L1719.57 869.01M1729.69 864.89L1849.86 831.16"/>
<path d="M1462.86 998.17V1025.13M1456.66 998.17H1469.06M1456.66 1025.13H1469.06" stroke-width="1.90"/>
<path d="M1593.62 910.93V965.22M1587.42 910.93H1599.82M1587.42 965.22H1599.82" stroke-width="1.90"/>
<path d="M1724.39 825.18V908.31M1718.19 825.18H1730.59M1718.19 908.31H1730.59" stroke-width="1.90"/>
<path d="M1855.16 789.99V868.62M1848.96 789.99H1861.36M1848.96 868.62H1861.36" stroke-width="1.90"/>
<path stroke-width="1.60" d="M1405.71 731.20H1421.48M1431.88 731.20H1447.65M1405.71 762.28H1421.48M1431.88 762.28H1447.65"/>
</g>
<g fill="#000">
<rect x="1458.96" y="1005.10" width="7.80" height="8.60"/>
<path d="M1462.86 1004.12L1467.96 1013.72L1457.76 1013.72Z"/>
<rect x="1589.72" y="1051.53" width="7.80" height="8.60"/>
<path d="M1593.62 931.48L1598.72 941.08L1588.52 941.08Z"/>
<rect x="1720.49" y="1039.17" width="7.80" height="8.60"/>
<path d="M1724.39 859.97L1729.49 869.57L1719.29 869.57Z"/>
<rect x="1851.26" y="1026.44" width="7.80" height="8.60"/>
<path d="M1855.16 823.27L1860.26 832.87L1850.06 832.87Z"/>
<rect x="1422.78" y="726.90" width="7.80" height="8.60"/>
<path d="M1426.68 755.88L1431.78 765.48L1421.58 765.48Z"/>
</g>
<g font-weight="bold">
<text transform="translate(1383.97 1164.18) scale(0.8000 1)" font-size="26.00" text-anchor="end" stroke="#000" stroke-width="0.12" stroke-linejoin="round">0</text>
<text transform="translate(1383.97 1051.10) scale(0.8000 1)" font-size="26.00" text-anchor="end" stroke="#000" stroke-width="0.12" stroke-linejoin="round">1</text>
<text transform="translate(1383.97 938.02) scale(0.8000 1)" font-size="26.00" text-anchor="end" stroke="#000" stroke-width="0.12" stroke-linejoin="round">2</text>
<text transform="translate(1383.97 824.95) scale(0.8000 1)" font-size="26.00" text-anchor="end" stroke="#000" stroke-width="0.12" stroke-linejoin="round">3</text>
<text transform="translate(1383.97 711.87) scale(0.8000 1)" font-size="26.00" text-anchor="end" stroke="#000" stroke-width="0.12" stroke-linejoin="round">4</text>
<text transform="translate(1462.86 1194.28) scale(0.8000 1)" font-size="30.00" text-anchor="middle" stroke="#000" stroke-width="0.15" stroke-linejoin="round">0 h</text>
<text transform="translate(1593.62 1194.28) scale(0.8000 1)" font-size="30.00" text-anchor="middle" stroke="#000" stroke-width="0.15" stroke-linejoin="round">3 h</text>
<text transform="translate(1724.39 1194.28) scale(0.8000 1)" font-size="30.00" text-anchor="middle" stroke="#000" stroke-width="0.15" stroke-linejoin="round">6 h</text>
<text transform="translate(1855.16 1194.28) scale(0.8000 1)" font-size="30.00" text-anchor="middle" stroke="#000" stroke-width="0.15" stroke-linejoin="round">12 h</text>
</g>
<text transform="translate(1933.74 1161.88) scale(0.8000 1)" font-size="19.60" stroke="#000" stroke-width="0.15" stroke-linejoin="round">0</text>
<text transform="translate(1933.74 1097.26) scale(0.8000 1)" font-size="19.60" stroke="#000" stroke-width="0.15" stroke-linejoin="round">5</text>
<text transform="translate(1933.74 1032.65) scale(0.8000 1)" font-size="19.60" stroke="#000" stroke-width="0.15" stroke-linejoin="round">10</text>
<text transform="translate(1933.74 968.03) scale(0.8000 1)" font-size="19.60" stroke="#000" stroke-width="0.15" stroke-linejoin="round">15</text>
<text transform="translate(1933.74 903.42) scale(0.8000 1)" font-size="19.60" stroke="#000" stroke-width="0.15" stroke-linejoin="round">20</text>
<text transform="translate(1933.74 838.80) scale(0.8000 1)" font-size="19.60" stroke="#000" stroke-width="0.15" stroke-linejoin="round">25</text>
<text transform="translate(1933.74 774.19) scale(0.8000 1)" font-size="19.60" stroke="#000" stroke-width="0.15" stroke-linejoin="round">30</text>
<text transform="translate(1933.74 709.57) scale(0.8000 1)" font-size="19.60" stroke="#000" stroke-width="0.15" stroke-linejoin="round">35</text>
<text transform="translate(1449.52 740.50) scale(0.8050 1)" font-size="26.00" letter-spacing="0.35" stroke="#000" stroke-width="0.30" stroke-linejoin="round">Mock</text>
<text transform="translate(1449.52 771.58) scale(0.8050 1)" font-size="26.00" letter-spacing="0.35" stroke="#000" stroke-width="0.30" stroke-linejoin="round">MeJA-treated</text>
<text transform="translate(1593.67 910.44) scale(0.6660 1)" font-size="31.52" text-anchor="middle">**</text>
<text transform="translate(1723.22 823.72) scale(0.6660 1)" font-size="27.87" text-anchor="middle">**</text>
<text transform="translate(1855.77 791.75) scale(0.6660 1)" font-size="25.97" text-anchor="middle">***</text>
<text transform="translate(1321.50 678.30) scale(1.0400 1)" font-size="53.00" stroke="#000" stroke-width="1.00" stroke-linejoin="round">(f)</text>
<text transform="translate(1396.72 691.14) scale(0.8492 1)" font-size="51.00" font-weight="bold" font-style="italic" stroke="#000" stroke-width="0.20" stroke-linejoin="round">CaNHL12</text>
<text transform="translate(1359.83 930.02) rotate(-90) scale(1.1880 1)" font-size="24.80" text-anchor="middle" font-weight="bold" stroke="#000" stroke-width="0.15" stroke-linejoin="round"><tspan font-style="italic">CaNHL12</tspan> Relative Expression Level</text>
</g>
<g>
<g fill="none" stroke="#000" stroke-width="1.55">
<path d="M84.88 1360.99H610.42M84.88 1803.55H610.42M92.48 1360.99V1807.55M602.82 1360.99V1807.55"/>
<path stroke-width="1.50" d="M156.28 1803.55v8.80M156.28 1360.99v8.20M283.86 1803.55v8.80M283.86 1360.99v8.20M411.45 1803.55v8.80M411.45 1360.99v8.20M539.03 1803.55v8.80M539.03 1360.99v8.20M220.07 1803.55v4.00M220.07 1360.99v4.00M347.65 1803.55v4.00M347.65 1360.99v4.00M475.24 1803.55v4.00M475.24 1360.99v4.00M92.48 1785.11h-4.00M92.48 1766.67h-7.60M92.48 1748.23h-4.00M92.48 1729.79h-7.60M92.48 1711.35h-4.00M92.48 1692.91h-7.60M92.48 1674.47h-4.00M92.48 1656.03h-7.60M92.48 1637.59h-4.00M92.48 1619.15h-7.60M92.48 1600.71h-4.00M92.48 1582.27h-7.60M92.48 1563.83h-4.00M92.48 1545.39h-7.60M92.48 1526.95h-4.00M92.48 1508.51h-7.60M92.48 1490.07h-4.00M92.48 1471.63h-7.60M92.48 1453.19h-4.00M92.48 1434.75h-7.60M92.48 1416.31h-4.00M92.48 1397.87h-7.60M92.48 1379.43h-4.00M602.82 1771.94h4.40M602.82 1740.33h7.60M602.82 1708.72h4.40M602.82 1677.11h7.60M602.82 1645.49h4.40M602.82 1613.88h7.60M602.82 1582.27h4.40M602.82 1550.66h7.60M602.82 1519.05h4.40M602.82 1487.43h7.60M602.82 1455.82h4.40M602.82 1424.21h7.60M602.82 1392.60h4.40"/>
<path stroke-width="1.60" d="M161.73 1744.10L278.40 1729.72M289.31 1729.75L405.99 1744.81M416.85 1744.49L533.63 1722.21"/>
<path d="M156.28 1739.53V1750.01M150.08 1739.53H162.48M150.08 1750.01H162.48" stroke-width="1.90"/>
<path d="M283.86 1720.81V1737.66M277.66 1720.81H290.06M277.66 1737.66H290.06" stroke-width="1.90"/>
<path d="M411.45 1717.44V1772.85M405.25 1717.44H417.65M405.25 1772.85H417.65" stroke-width="1.90"/>
<path d="M539.03 1711.07V1730.92M532.83 1711.07H545.23M532.83 1730.92H545.23" stroke-width="1.90"/>
<path stroke-width="1.60" d="M158.43 1704.14L281.70 1414.72M289.09 1411.35L406.21 1449.16M416.90 1450.16L533.57 1435.44"/>
<path d="M156.28 1696.47V1722.30M150.08 1696.47H162.48M150.08 1722.30H162.48" stroke-width="1.90"/>
<path d="M283.86 1394.31V1425.76M277.66 1394.31H290.06M277.66 1425.76H290.06" stroke-width="1.90"/>
<path d="M411.45 1418.27V1484.17M405.25 1418.27H417.65M405.25 1484.17H417.65" stroke-width="1.90"/>
<path d="M539.03 1386.07V1483.42M532.83 1386.07H545.23M532.83 1483.42H545.23" stroke-width="1.90"/>
<path stroke-width="1.60" d="M105.21 1390.94H120.98M131.38 1390.94H147.15M105.21 1421.64H120.98M131.38 1421.64H147.15"/>
</g>
<g fill="#000">
<rect x="152.38" y="1740.47" width="7.80" height="8.60"/>
<path d="M156.28 1702.80L161.38 1712.40L151.18 1712.40Z"/>
<rect x="279.96" y="1724.74" width="7.80" height="8.60"/>
<path d="M283.86 1403.26L288.96 1412.86L278.76 1412.86Z"/>
<rect x="407.55" y="1741.22" width="7.80" height="8.60"/>
<path d="M411.45 1444.44L416.55 1454.04L406.35 1454.04Z"/>
<rect x="535.13" y="1716.88" width="7.80" height="8.60"/>
<path d="M539.03 1428.34L544.13 1437.94L533.93 1437.94Z"/>
<rect x="122.28" y="1386.64" width="7.80" height="8.60"/>
<path d="M126.18 1415.24L131.28 1424.84L121.08 1424.84Z"/>
</g>
<g font-weight="bold">
<text transform="translate(78.98 1811.55) scale(0.8000 1)" font-size="26.00" text-anchor="end" stroke="#000" stroke-width="0.12" stroke-linejoin="round">0.6</text>
<text transform="translate(78.98 1774.67) scale(0.8000 1)" font-size="26.00" text-anchor="end" stroke="#000" stroke-width="0.12" stroke-linejoin="round">0.8</text>
<text transform="translate(78.98 1737.79) scale(0.8000 1)" font-size="26.00" text-anchor="end" stroke="#000" stroke-width="0.12" stroke-linejoin="round">1.0</text>
<text transform="translate(78.98 1700.91) scale(0.8000 1)" font-size="26.00" text-anchor="end" stroke="#000" stroke-width="0.12" stroke-linejoin="round">1.2</text>
<text transform="translate(78.98 1664.03) scale(0.8000 1)" font-size="26.00" text-anchor="end" stroke="#000" stroke-width="0.12" stroke-linejoin="round">1.4</text>
<text transform="translate(78.98 1627.15) scale(0.8000 1)" font-size="26.00" text-anchor="end" stroke="#000" stroke-width="0.12" stroke-linejoin="round">1.6</text>
<text transform="translate(78.98 1590.27) scale(0.8000 1)" font-size="26.00" text-anchor="end" stroke="#000" stroke-width="0.12" stroke-linejoin="round">1.8</text>
<text transform="translate(78.98 1553.39) scale(0.8000 1)" font-size="26.00" text-anchor="end" stroke="#000" stroke-width="0.12" stroke-linejoin="round">2.0</text>
<text transform="translate(78.98 1516.51) scale(0.8000 1)" font-size="26.00" text-anchor="end" stroke="#000" stroke-width="0.12" stroke-linejoin="round">2.2</text>
<text transform="translate(78.98 1479.63) scale(0.8000 1)" font-size="26.00" text-anchor="end" stroke="#000" stroke-width="0.12" stroke-linejoin="round">2.4</text>
<text transform="translate(78.98 1442.75) scale(0.8000 1)" font-size="26.00" text-anchor="end" stroke="#000" stroke-width="0.12" stroke-linejoin="round">2.6</text>
<text transform="translate(78.98 1405.87) scale(0.8000 1)" font-size="26.00" text-anchor="end" stroke="#000" stroke-width="0.12" stroke-linejoin="round">2.8</text>
<text transform="translate(78.98 1368.99) scale(0.8000 1)" font-size="26.00" text-anchor="end" stroke="#000" stroke-width="0.12" stroke-linejoin="round">3.0</text>
<text transform="translate(156.28 1841.65) scale(0.8000 1)" font-size="30.00" text-anchor="middle" stroke="#000" stroke-width="0.15" stroke-linejoin="round">0 h</text>
<text transform="translate(283.86 1841.65) scale(0.8000 1)" font-size="30.00" text-anchor="middle" stroke="#000" stroke-width="0.15" stroke-linejoin="round">3 h</text>
<text transform="translate(411.45 1841.65) scale(0.8000 1)" font-size="30.00" text-anchor="middle" stroke="#000" stroke-width="0.15" stroke-linejoin="round">6 h</text>
<text transform="translate(539.03 1841.65) scale(0.8000 1)" font-size="30.00" text-anchor="middle" stroke="#000" stroke-width="0.15" stroke-linejoin="round">12 h</text>
</g>
<text transform="translate(616.02 1809.25) scale(0.8000 1)" font-size="19.60" stroke="#000" stroke-width="0.15" stroke-linejoin="round">0</text>
<text transform="translate(616.02 1746.03) scale(0.8000 1)" font-size="19.60" stroke="#000" stroke-width="0.15" stroke-linejoin="round">5</text>
<text transform="translate(616.02 1682.81) scale(0.8000 1)" font-size="19.60" stroke="#000" stroke-width="0.15" stroke-linejoin="round">10</text>
<text transform="translate(616.02 1619.58) scale(0.8000 1)" font-size="19.60" stroke="#000" stroke-width="0.15" stroke-linejoin="round">15</text>
<text transform="translate(616.02 1556.36) scale(0.8000 1)" font-size="19.60" stroke="#000" stroke-width="0.15" stroke-linejoin="round">20</text>
<text transform="translate(616.02 1493.13) scale(0.8000 1)" font-size="19.60" stroke="#000" stroke-width="0.15" stroke-linejoin="round">25</text>
<text transform="translate(616.02 1429.91) scale(0.8000 1)" font-size="19.60" stroke="#000" stroke-width="0.15" stroke-linejoin="round">30</text>
<text transform="translate(616.02 1366.69) scale(0.8000 1)" font-size="19.60" stroke="#000" stroke-width="0.15" stroke-linejoin="round">35</text>
<text transform="translate(148.65 1400.24) scale(0.8050 1)" font-size="26.00" letter-spacing="0.35" stroke="#000" stroke-width="0.30" stroke-linejoin="round">Mock</text>
<text transform="translate(148.65 1430.94) scale(0.8050 1)" font-size="26.00" letter-spacing="0.35" stroke="#000" stroke-width="0.30" stroke-linejoin="round">MeSA-treated</text>
<text transform="translate(283.81 1401.33) scale(0.6660 1)" font-size="30.78" text-anchor="middle">***</text>
<text transform="translate(410.74 1424.00) scale(0.6660 1)" font-size="31.21" text-anchor="middle">***</text>
<text transform="translate(538.05 1394.42) scale(0.6660 1)" font-size="31.21" text-anchor="middle">***</text>
<text transform="translate(1.00 1332.60) scale(1.0400 1)" font-size="53.00" stroke="#000" stroke-width="1.70" stroke-linejoin="round">(g)</text>
<text transform="translate(92.86 1348.63) scale(0.8492 1)" font-size="51.00" font-weight="bold" font-style="italic" stroke="#000" stroke-width="0.20" stroke-linejoin="round">CaNHL1</text>
<text transform="translate(40.72 1581.90) rotate(-90) scale(1.1880 1)" font-size="24.80" text-anchor="middle" font-weight="bold" stroke="#000" stroke-width="0.15" stroke-linejoin="round"><tspan font-style="italic">CaNHL1</tspan> Relative Expression Level</text>
</g>
<g>
<g fill="none" stroke="#000" stroke-width="1.55">
<path d="M727.77 1359.86H1264.92M727.77 1811.79H1264.92M735.37 1359.86V1815.79M1257.32 1359.86V1815.79"/>
<path stroke-width="1.50" d="M800.61 1811.79v8.80M800.61 1359.86v8.20M931.10 1811.79v8.80M931.10 1359.86v8.20M1061.59 1811.79v8.80M1061.59 1359.86v8.20M1192.07 1811.79v8.80M1192.07 1359.86v8.20M865.86 1811.79v4.00M865.86 1359.86v4.00M996.34 1811.79v4.00M996.34 1359.86v4.00M1126.83 1811.79v4.00M1126.83 1359.86v4.00M735.37 1791.25h-4.00M735.37 1770.71h-7.60M735.37 1750.16h-4.00M735.37 1729.62h-7.60M735.37 1709.08h-4.00M735.37 1688.54h-7.60M735.37 1668.00h-4.00M735.37 1647.45h-7.60M735.37 1626.91h-4.00M735.37 1606.37h-7.60M735.37 1585.83h-4.00M735.37 1565.28h-7.60M735.37 1544.74h-4.00M735.37 1524.20h-7.60M735.37 1503.66h-4.00M735.37 1483.12h-7.60M735.37 1462.57h-4.00M735.37 1442.03h-7.60M735.37 1421.49h-4.00M735.37 1400.95h-7.60M735.37 1380.40h-4.00M1257.32 1779.51h4.40M1257.32 1747.23h7.60M1257.32 1714.95h4.40M1257.32 1682.67h7.60M1257.32 1650.39h4.40M1257.32 1618.11h7.60M1257.32 1585.83h4.40M1257.32 1553.55h7.60M1257.32 1521.27h4.40M1257.32 1488.98h7.60M1257.32 1456.70h4.40M1257.32 1424.42h7.60M1257.32 1392.14h4.40"/>
<path stroke-width="1.60" d="M806.09 1791.80L925.62 1780.48M936.57 1779.43L1056.11 1767.77M1066.97 1766.12L1186.69 1741.39"/>
<path d="M800.61 1779.97V1804.68M794.41 1779.97H806.81M794.41 1804.68H806.81" stroke-width="1.90"/>
<path d="M931.10 1770.60V1789.33M924.90 1770.60H937.30M924.90 1789.33H937.30" stroke-width="1.90"/>
<path d="M1061.59 1756.38V1778.09M1055.39 1756.38H1067.79M1055.39 1778.09H1067.79" stroke-width="1.90"/>
<path d="M1192.07 1720.43V1759.37M1185.87 1720.43H1198.27M1185.87 1759.37H1198.27" stroke-width="1.90"/>
<path stroke-width="1.60" d="M803.97 1763.62L927.75 1602.73M935.67 1601.43L1057.01 1682.55M1064.18 1680.76L1189.48 1445.96"/>
<path d="M800.61 1747.02V1788.95M794.41 1747.02H806.81M794.41 1788.95H806.81" stroke-width="1.90"/>
<path d="M931.10 1581.15V1615.97M924.90 1581.15H937.30M924.90 1615.97H937.30" stroke-width="1.90"/>
<path d="M1061.59 1669.88V1701.71M1055.39 1669.88H1067.79M1055.39 1701.71H1067.79" stroke-width="1.90"/>
<path d="M1192.07 1387.57V1495.40M1185.87 1387.57H1198.27M1185.87 1495.40H1198.27" stroke-width="1.90"/>
<path stroke-width="1.60" d="M748.10 1390.94H763.87M774.27 1390.94H790.03M748.10 1422.02H763.87M774.27 1422.02H790.03"/>
</g>
<g fill="#000">
<rect x="796.71" y="1788.02" width="7.80" height="8.60"/>
<path d="M800.61 1761.58L805.71 1771.18L795.51 1771.18Z"/>
<rect x="927.20" y="1775.67" width="7.80" height="8.60"/>
<path d="M931.10 1591.97L936.20 1601.57L926.00 1601.57Z"/>
<rect x="1057.69" y="1762.94" width="7.80" height="8.60"/>
<path d="M1061.59 1679.21L1066.69 1688.81L1056.49 1688.81Z"/>
<rect x="1188.17" y="1735.98" width="7.80" height="8.60"/>
<path d="M1192.07 1434.71L1197.17 1444.31L1186.97 1444.31Z"/>
<rect x="765.17" y="1386.64" width="7.80" height="8.60"/>
<path d="M769.07 1415.61L774.17 1425.21L763.97 1425.21Z"/>
</g>
<g font-weight="bold">
<text transform="translate(721.87 1819.79) scale(0.8000 1)" font-size="26.00" text-anchor="end" stroke="#000" stroke-width="0.12" stroke-linejoin="round">0.8</text>
<text transform="translate(721.87 1778.71) scale(0.8000 1)" font-size="26.00" text-anchor="end" stroke="#000" stroke-width="0.12" stroke-linejoin="round">1.0</text>
<text transform="translate(721.87 1737.62) scale(0.8000 1)" font-size="26.00" text-anchor="end" stroke="#000" stroke-width="0.12" stroke-linejoin="round">1.2</text>
<text transform="translate(721.87 1696.54) scale(0.8000 1)" font-size="26.00" text-anchor="end" stroke="#000" stroke-width="0.12" stroke-linejoin="round">1.4</text>
<text transform="translate(721.87 1655.45) scale(0.8000 1)" font-size="26.00" text-anchor="end" stroke="#000" stroke-width="0.12" stroke-linejoin="round">1.6</text>
<text transform="translate(721.87 1614.37) scale(0.8000 1)" font-size="26.00" text-anchor="end" stroke="#000" stroke-width="0.12" stroke-linejoin="round">1.8</text>
<text transform="translate(721.87 1573.28) scale(0.8000 1)" font-size="26.00" text-anchor="end" stroke="#000" stroke-width="0.12" stroke-linejoin="round">2.0</text>
<text transform="translate(721.87 1532.20) scale(0.8000 1)" font-size="26.00" text-anchor="end" stroke="#000" stroke-width="0.12" stroke-linejoin="round">2.2</text>
<text transform="translate(721.87 1491.12) scale(0.8000 1)" font-size="26.00" text-anchor="end" stroke="#000" stroke-width="0.12" stroke-linejoin="round">2.4</text>
<text transform="translate(721.87 1450.03) scale(0.8000 1)" font-size="26.00" text-anchor="end" stroke="#000" stroke-width="0.12" stroke-linejoin="round">2.6</text>
<text transform="translate(721.87 1408.95) scale(0.8000 1)" font-size="26.00" text-anchor="end" stroke="#000" stroke-width="0.12" stroke-linejoin="round">2.8</text>
<text transform="translate(721.87 1367.86) scale(0.8000 1)" font-size="26.00" text-anchor="end" stroke="#000" stroke-width="0.12" stroke-linejoin="round">3.0</text>
<text transform="translate(800.61 1849.89) scale(0.8000 1)" font-size="30.00" text-anchor="middle" stroke="#000" stroke-width="0.15" stroke-linejoin="round">0 h</text>
<text transform="translate(931.10 1849.89) scale(0.8000 1)" font-size="30.00" text-anchor="middle" stroke="#000" stroke-width="0.15" stroke-linejoin="round">3 h</text>
<text transform="translate(1061.59 1849.89) scale(0.8000 1)" font-size="30.00" text-anchor="middle" stroke="#000" stroke-width="0.15" stroke-linejoin="round">6 h</text>
<text transform="translate(1192.07 1849.89) scale(0.8000 1)" font-size="30.00" text-anchor="middle" stroke="#000" stroke-width="0.15" stroke-linejoin="round">12 h</text>
</g>
<text transform="translate(1270.52 1817.49) scale(0.8000 1)" font-size="19.60" stroke="#000" stroke-width="0.15" stroke-linejoin="round">0</text>
<text transform="translate(1270.52 1752.93) scale(0.8000 1)" font-size="19.60" stroke="#000" stroke-width="0.15" stroke-linejoin="round">5</text>
<text transform="translate(1270.52 1688.37) scale(0.8000 1)" font-size="19.60" stroke="#000" stroke-width="0.15" stroke-linejoin="round">10</text>
<text transform="translate(1270.52 1623.81) scale(0.8000 1)" font-size="19.60" stroke="#000" stroke-width="0.15" stroke-linejoin="round">15</text>
<text transform="translate(1270.52 1559.25) scale(0.8000 1)" font-size="19.60" stroke="#000" stroke-width="0.15" stroke-linejoin="round">20</text>
<text transform="translate(1270.52 1494.68) scale(0.8000 1)" font-size="19.60" stroke="#000" stroke-width="0.15" stroke-linejoin="round">25</text>
<text transform="translate(1270.52 1430.12) scale(0.8000 1)" font-size="19.60" stroke="#000" stroke-width="0.15" stroke-linejoin="round">30</text>
<text transform="translate(1270.52 1365.56) scale(0.8000 1)" font-size="19.60" stroke="#000" stroke-width="0.15" stroke-linejoin="round">35</text>
<text transform="translate(792.28 1400.24) scale(0.8050 1)" font-size="26.00" letter-spacing="0.35" stroke="#000" stroke-width="0.30" stroke-linejoin="round">Mock</text>
<text transform="translate(792.28 1431.32) scale(0.8050 1)" font-size="26.00" letter-spacing="0.35" stroke="#000" stroke-width="0.30" stroke-linejoin="round">MeSA-treated</text>
<text transform="translate(933.81 1589.15) scale(0.6660 1)" font-size="32.06" text-anchor="middle">***</text>
<text transform="translate(1062.24 1673.50) scale(0.6660 1)" font-size="31.50" text-anchor="middle">*</text>
<text transform="translate(1194.04 1394.42) scale(0.6660 1)" font-size="31.21" text-anchor="middle">***</text>
<text transform="translate(674.10 1333.40) scale(1.0400 1)" font-size="53.00" stroke="#000" stroke-width="1.00" stroke-linejoin="round">(h)</text>
<text transform="translate(737.24 1346.76) scale(0.8492 1)" font-size="51.00" font-weight="bold" font-style="italic" stroke="#000" stroke-width="0.20" stroke-linejoin="round">CaNHL4</text>
<text transform="translate(681.53 1584.52) rotate(-90) scale(1.1880 1)" font-size="24.80" text-anchor="middle" font-weight="bold" stroke="#000" stroke-width="0.15" stroke-linejoin="round"><tspan font-style="italic">CaNHL4</tspan> Relative Expression Level</text>
</g>
<g>
<g fill="none" stroke="#000" stroke-width="1.55">
<path d="M1378.27 1359.86H1915.04M1378.27 1811.42H1915.04M1385.87 1359.86V1815.42M1907.44 1359.86V1815.42"/>
<path stroke-width="1.50" d="M1451.06 1811.42v8.80M1451.06 1359.86v8.20M1581.46 1811.42v8.80M1581.46 1359.86v8.20M1711.85 1811.42v8.80M1711.85 1359.86v8.20M1842.24 1811.42v8.80M1842.24 1359.86v8.20M1516.26 1811.42v4.00M1516.26 1359.86v4.00M1646.65 1811.42v4.00M1646.65 1359.86v4.00M1777.05 1811.42v4.00M1777.05 1359.86v4.00M1385.87 1773.79h-4.00M1385.87 1736.16h-7.60M1385.87 1698.53h-4.00M1385.87 1660.90h-7.60M1385.87 1623.27h-4.00M1385.87 1585.64h-7.60M1385.87 1548.01h-4.00M1385.87 1510.38h-7.60M1385.87 1472.75h-4.00M1385.87 1435.12h-7.60M1385.87 1397.49h-4.00M1907.44 1779.16h4.40M1907.44 1746.91h7.60M1907.44 1714.66h4.40M1907.44 1682.40h7.60M1907.44 1650.15h4.40M1907.44 1617.89h7.60M1907.44 1585.64h4.40M1907.44 1553.39h7.60M1907.44 1521.13h4.40M1907.44 1488.88h7.60M1907.44 1456.62h4.40M1907.44 1424.37h7.60M1907.44 1392.12h4.40"/>
<path stroke-width="1.60" d="M1456.56 1768.25L1575.96 1765.85M1586.94 1766.16L1706.37 1775.42M1717.35 1775.74L1836.74 1773.34"/>
<path d="M1451.06 1764.24V1772.48M1444.86 1764.24H1457.26M1444.86 1772.48H1457.26" stroke-width="1.90"/>
<path d="M1581.46 1762.74V1768.73M1575.26 1762.74H1587.66M1575.26 1768.73H1587.66" stroke-width="1.90"/>
<path d="M1711.85 1772.48V1779.22M1705.65 1772.48H1718.05M1705.65 1779.22H1718.05" stroke-width="1.90"/>
<path d="M1842.24 1766.49V1779.22M1836.04 1766.49H1848.44M1836.04 1779.22H1848.44" stroke-width="1.90"/>
<path stroke-width="1.60" d="M1456.02 1761.85L1576.50 1703.73M1583.91 1696.42L1709.39 1445.28M1713.87 1445.48L1840.22 1764.74"/>
<path d="M1451.06 1760.50V1768.73M1444.86 1760.50H1457.26M1444.86 1768.73H1457.26" stroke-width="1.90"/>
<path d="M1581.46 1674.38V1726.80M1575.26 1674.38H1587.66M1575.26 1726.80H1587.66" stroke-width="1.90"/>
<path d="M1711.85 1407.04V1472.56M1705.65 1407.04H1718.05M1705.65 1472.56H1718.05" stroke-width="1.90"/>
<path d="M1842.24 1759.37V1779.97M1836.04 1759.37H1848.44M1836.04 1779.97H1848.44" stroke-width="1.90"/>
<path stroke-width="1.60" d="M1404.59 1393.93H1420.54M1430.94 1393.93H1446.90M1404.59 1424.64H1420.54M1430.94 1424.64H1446.90"/>
</g>
<g fill="#000">
<rect x="1447.16" y="1764.06" width="7.80" height="8.60"/>
<path d="M1451.06 1757.84L1456.16 1767.44L1445.96 1767.44Z"/>
<rect x="1577.56" y="1761.44" width="7.80" height="8.60"/>
<path d="M1581.46 1694.93L1586.56 1704.53L1576.36 1704.53Z"/>
<rect x="1707.95" y="1771.55" width="7.80" height="8.60"/>
<path d="M1711.85 1433.96L1716.95 1443.56L1706.75 1443.56Z"/>
<rect x="1838.34" y="1768.93" width="7.80" height="8.60"/>
<path d="M1842.24 1763.45L1847.34 1773.05L1837.14 1773.05Z"/>
<rect x="1421.84" y="1389.63" width="7.80" height="8.60"/>
<path d="M1425.74 1418.23L1430.84 1427.83L1420.64 1427.83Z"/>
</g>
<g font-weight="bold">
<text transform="translate(1372.37 1819.42) scale(0.8000 1)" font-size="26.00" text-anchor="end" stroke="#000" stroke-width="0.12" stroke-linejoin="round">0</text>
<text transform="translate(1372.37 1744.16) scale(0.8000 1)" font-size="26.00" text-anchor="end" stroke="#000" stroke-width="0.12" stroke-linejoin="round">2</text>
<text transform="translate(1372.37 1668.90) scale(0.8000 1)" font-size="26.00" text-anchor="end" stroke="#000" stroke-width="0.12" stroke-linejoin="round">4</text>
<text transform="translate(1372.37 1593.64) scale(0.8000 1)" font-size="26.00" text-anchor="end" stroke="#000" stroke-width="0.12" stroke-linejoin="round">6</text>
<text transform="translate(1372.37 1518.38) scale(0.8000 1)" font-size="26.00" text-anchor="end" stroke="#000" stroke-width="0.12" stroke-linejoin="round">8</text>
<text transform="translate(1372.37 1443.12) scale(0.8000 1)" font-size="26.00" text-anchor="end" stroke="#000" stroke-width="0.12" stroke-linejoin="round">10</text>
<text transform="translate(1372.37 1367.86) scale(0.8000 1)" font-size="26.00" text-anchor="end" stroke="#000" stroke-width="0.12" stroke-linejoin="round">12</text>
<text transform="translate(1451.06 1849.52) scale(0.8000 1)" font-size="30.00" text-anchor="middle" stroke="#000" stroke-width="0.15" stroke-linejoin="round">0 h</text>
<text transform="translate(1581.46 1849.52) scale(0.8000 1)" font-size="30.00" text-anchor="middle" stroke="#000" stroke-width="0.15" stroke-linejoin="round">3 h</text>
<text transform="translate(1711.85 1849.52) scale(0.8000 1)" font-size="30.00" text-anchor="middle" stroke="#000" stroke-width="0.15" stroke-linejoin="round">6 h</text>
<text transform="translate(1842.24 1849.52) scale(0.8000 1)" font-size="30.00" text-anchor="middle" stroke="#000" stroke-width="0.15" stroke-linejoin="round">12 h</text>
</g>
<text transform="translate(1920.64 1817.12) scale(0.8000 1)" font-size="19.60" stroke="#000" stroke-width="0.15" stroke-linejoin="round">0</text>
<text transform="translate(1920.64 1752.61) scale(0.8000 1)" font-size="19.60" stroke="#000" stroke-width="0.15" stroke-linejoin="round">5</text>
<text transform="translate(1920.64 1688.10) scale(0.8000 1)" font-size="19.60" stroke="#000" stroke-width="0.15" stroke-linejoin="round">10</text>
<text transform="translate(1920.64 1623.59) scale(0.8000 1)" font-size="19.60" stroke="#000" stroke-width="0.15" stroke-linejoin="round">15</text>
<text transform="translate(1920.64 1559.09) scale(0.8000 1)" font-size="19.60" stroke="#000" stroke-width="0.15" stroke-linejoin="round">20</text>
<text transform="translate(1920.64 1494.58) scale(0.8000 1)" font-size="19.60" stroke="#000" stroke-width="0.15" stroke-linejoin="round">25</text>
<text transform="translate(1920.64 1430.07) scale(0.8000 1)" font-size="19.60" stroke="#000" stroke-width="0.15" stroke-linejoin="round">30</text>
<text transform="translate(1920.64 1365.56) scale(0.8000 1)" font-size="19.60" stroke="#000" stroke-width="0.15" stroke-linejoin="round">35</text>
<text transform="translate(1448.77 1403.23) scale(0.8050 1)" font-size="26.00" letter-spacing="0.35" stroke="#000" stroke-width="0.30" stroke-linejoin="round">Mock</text>
<text transform="translate(1448.77 1433.94) scale(0.8050 1)" font-size="26.00" letter-spacing="0.35" stroke="#000" stroke-width="0.30" stroke-linejoin="round">MeSA-treated</text>
<text transform="translate(1583.19 1677.25) scale(0.6660 1)" font-size="31.50" text-anchor="middle">*</text>
<text transform="translate(1713.86 1405.83) scale(0.6660 1)" font-size="25.22" text-anchor="middle">***</text>
<text transform="translate(1331.10 1333.40) scale(1.0400 1)" font-size="53.00" stroke="#000" stroke-width="1.00" stroke-linejoin="round">(i)</text>
<text transform="translate(1385.12 1346.76) scale(0.8492 1)" font-size="51.00" font-weight="bold" font-style="italic" stroke="#000" stroke-width="0.20" stroke-linejoin="round">CaNHL6</text>
<text transform="translate(1336.47 1584.52) rotate(-90) scale(1.1880 1)" font-size="24.80" text-anchor="middle" font-weight="bold" stroke="#000" stroke-width="0.15" stroke-linejoin="round"><tspan font-style="italic">CaNHL6</tspan> Relative Expression Level</text>
</g>
<g>
<g fill="none" stroke="#000" stroke-width="1.55">
<path d="M80.76 1916.13H618.66M80.76 2368.43H618.66M88.36 1916.13V2372.43M611.06 1916.13V2372.43"/>
<path stroke-width="1.50" d="M153.70 2368.43v8.80M153.70 1916.13v8.20M284.38 2368.43v8.80M284.38 1916.13v8.20M415.05 2368.43v8.80M415.05 1916.13v8.20M545.72 2368.43v8.80M545.72 1916.13v8.20M219.04 2368.43v4.00M219.04 1916.13v4.00M349.71 2368.43v4.00M349.71 1916.13v4.00M480.39 2368.43v4.00M480.39 1916.13v4.00M88.36 2323.20h-4.00M88.36 2277.97h-7.60M88.36 2232.74h-4.00M88.36 2187.51h-7.60M88.36 2142.28h-4.00M88.36 2097.05h-7.60M88.36 2051.82h-4.00M88.36 2006.59h-7.60M88.36 1961.36h-4.00M611.06 2336.13h4.40M611.06 2303.82h7.60M611.06 2271.51h4.40M611.06 2239.20h7.60M611.06 2206.90h4.40M611.06 2174.59h7.60M611.06 2142.28h4.40M611.06 2109.97h7.60M611.06 2077.67h4.40M611.06 2045.36h7.60M611.06 2013.05h4.40M611.06 1980.75h7.60M611.06 1948.44h4.40"/>
<path stroke-width="1.60" d="M159.19 2322.74L278.89 2314.16M289.81 2314.58L409.61 2332.43M420.51 2332.58L540.26 2318.17"/>
<path d="M153.70 2319.38V2326.87M147.50 2319.38H159.90M147.50 2326.87H159.90" stroke-width="1.90"/>
<path d="M284.38 2309.65V2318.26M278.18 2309.65H290.58M278.18 2318.26H290.58" stroke-width="1.90"/>
<path d="M415.05 2329.87V2336.61M408.85 2329.87H421.25M408.85 2336.61H421.25" stroke-width="1.90"/>
<path d="M545.72 2313.77V2321.63M539.52 2313.77H551.92M539.52 2321.63H551.92" stroke-width="1.90"/>
<path stroke-width="1.60" d="M158.56 2316.81L279.52 2252.69M286.62 2245.10L412.80 1963.46M417.58 1963.32L543.19 2205.54"/>
<path d="M153.70 2316.01V2323.13M147.50 2316.01H159.90M147.50 2323.13H159.90" stroke-width="1.90"/>
<path d="M284.38 2238.51V2261.72M278.18 2238.51H290.58M278.18 2261.72H290.58" stroke-width="1.90"/>
<path d="M415.05 1947.58V1969.67M408.85 1947.58H421.25M408.85 1969.67H421.25" stroke-width="1.90"/>
<path d="M545.72 2201.82V2219.04M539.52 2201.82H551.92M539.52 2219.04H551.92" stroke-width="1.90"/>
<path stroke-width="1.60" d="M102.97 1947.96H119.30M129.70 1947.96H146.03M102.97 1979.03H119.30M129.70 1979.03H146.03"/>
</g>
<g fill="#000">
<rect x="149.80" y="2318.83" width="7.80" height="8.60"/>
<path d="M153.70 2312.98L158.80 2322.58L148.60 2322.58Z"/>
<rect x="280.48" y="2309.47" width="7.80" height="8.60"/>
<path d="M284.38 2243.71L289.48 2253.31L279.28 2253.31Z"/>
<rect x="411.15" y="2328.94" width="7.80" height="8.60"/>
<path d="M415.05 1952.04L420.15 1961.64L409.95 1961.64Z"/>
<rect x="541.82" y="2313.21" width="7.80" height="8.60"/>
<path d="M545.72 2204.02L550.82 2213.62L540.62 2213.62Z"/>
<rect x="120.60" y="1943.66" width="7.80" height="8.60"/>
<path d="M124.50 1972.63L129.60 1982.23L119.40 1982.23Z"/>
</g>
<g font-weight="bold">
<text transform="translate(74.86 2376.43) scale(0.8000 1)" font-size="26.00" text-anchor="end" stroke="#000" stroke-width="0.12" stroke-linejoin="round">0</text>
<text transform="translate(74.86 2285.97) scale(0.8000 1)" font-size="26.00" text-anchor="end" stroke="#000" stroke-width="0.12" stroke-linejoin="round">2</text>
<text transform="translate(74.86 2195.51) scale(0.8000 1)" font-size="26.00" text-anchor="end" stroke="#000" stroke-width="0.12" stroke-linejoin="round">4</text>
<text transform="translate(74.86 2105.05) scale(0.8000 1)" font-size="26.00" text-anchor="end" stroke="#000" stroke-width="0.12" stroke-linejoin="round">6</text>
<text transform="translate(74.86 2014.59) scale(0.8000 1)" font-size="26.00" text-anchor="end" stroke="#000" stroke-width="0.12" stroke-linejoin="round">8</text>
<text transform="translate(74.86 1924.13) scale(0.8000 1)" font-size="26.00" text-anchor="end" stroke="#000" stroke-width="0.12" stroke-linejoin="round">10</text>
<text transform="translate(153.70 2406.53) scale(0.8000 1)" font-size="30.00" text-anchor="middle" stroke="#000" stroke-width="0.15" stroke-linejoin="round">0 h</text>
<text transform="translate(284.38 2406.53) scale(0.8000 1)" font-size="30.00" text-anchor="middle" stroke="#000" stroke-width="0.15" stroke-linejoin="round">3 h</text>
<text transform="translate(415.05 2406.53) scale(0.8000 1)" font-size="30.00" text-anchor="middle" stroke="#000" stroke-width="0.15" stroke-linejoin="round">6 h</text>
<text transform="translate(545.72 2406.53) scale(0.8000 1)" font-size="30.00" text-anchor="middle" stroke="#000" stroke-width="0.15" stroke-linejoin="round">12 h</text>
</g>
<text transform="translate(624.26 2374.13) scale(0.8000 1)" font-size="19.60" stroke="#000" stroke-width="0.15" stroke-linejoin="round">0</text>
<text transform="translate(624.26 2309.52) scale(0.8000 1)" font-size="19.60" stroke="#000" stroke-width="0.15" stroke-linejoin="round">5</text>
<text transform="translate(624.26 2244.90) scale(0.8000 1)" font-size="19.60" stroke="#000" stroke-width="0.15" stroke-linejoin="round">10</text>
<text transform="translate(624.26 2180.29) scale(0.8000 1)" font-size="19.60" stroke="#000" stroke-width="0.15" stroke-linejoin="round">15</text>
<text transform="translate(624.26 2115.67) scale(0.8000 1)" font-size="19.60" stroke="#000" stroke-width="0.15" stroke-linejoin="round">20</text>
<text transform="translate(624.26 2051.06) scale(0.8000 1)" font-size="19.60" stroke="#000" stroke-width="0.15" stroke-linejoin="round">25</text>
<text transform="translate(624.26 1986.45) scale(0.8000 1)" font-size="19.60" stroke="#000" stroke-width="0.15" stroke-linejoin="round">30</text>
<text transform="translate(624.26 1921.83) scale(0.8000 1)" font-size="19.60" stroke="#000" stroke-width="0.15" stroke-linejoin="round">35</text>
<text transform="translate(147.15 1957.26) scale(0.8050 1)" font-size="26.00" letter-spacing="0.35" stroke="#000" stroke-width="0.30" stroke-linejoin="round">Mock</text>
<text transform="translate(147.15 1988.33) scale(0.8050 1)" font-size="26.00" letter-spacing="0.35" stroke="#000" stroke-width="0.30" stroke-linejoin="round">MeSA-treated</text>
<text transform="translate(285.69 2244.85) scale(0.6660 1)" font-size="32.50" text-anchor="middle">**</text>
<text transform="translate(418.23 1954.06) scale(0.6660 1)" font-size="31.21" text-anchor="middle">***</text>
<text transform="translate(550.40 2207.17) scale(0.6660 1)" font-size="31.21" text-anchor="middle">***</text>
<text transform="translate(7.00 1887.70) scale(1.0400 1)" font-size="53.00" stroke="#000" stroke-width="1.00" stroke-linejoin="round">(j)</text>
<text transform="translate(90.24 1903.03) scale(0.8492 1)" font-size="51.00" font-weight="bold" font-style="italic" stroke="#000" stroke-width="0.20" stroke-linejoin="round">CaNHL10</text>
<text transform="translate(40.64 2142.28) rotate(-90) scale(1.1880 1)" font-size="24.80" text-anchor="middle" font-weight="bold" stroke="#000" stroke-width="0.15" stroke-linejoin="round"><tspan font-style="italic">CaNHL10</tspan> Relative Expression Level</text>
</g>
<g>
<g fill="none" stroke="#000" stroke-width="1.55">
<path d="M730.76 1918.75H1262.67M730.76 2365.44H1262.67M738.36 1918.75V2369.44M1255.07 1918.75V2369.44"/>
<path stroke-width="1.50" d="M802.95 2365.44v8.80M802.95 1918.75v8.20M932.13 2365.44v8.80M932.13 1918.75v8.20M1061.30 2365.44v8.80M1061.30 1918.75v8.20M1190.48 2365.44v8.80M1190.48 1918.75v8.20M867.54 2365.44v4.00M867.54 1918.75v4.00M996.72 2365.44v4.00M996.72 1918.75v4.00M1125.89 2365.44v4.00M1125.89 1918.75v4.00M738.36 2337.52h-4.00M738.36 2309.60h-7.60M738.36 2281.68h-4.00M738.36 2253.77h-7.60M738.36 2225.85h-4.00M738.36 2197.93h-7.60M738.36 2170.01h-4.00M738.36 2142.10h-7.60M738.36 2114.18h-4.00M738.36 2086.26h-7.60M738.36 2058.34h-4.00M738.36 2030.42h-7.60M738.36 2002.51h-4.00M738.36 1974.59h-7.60M738.36 1946.67h-4.00M1255.07 2333.53h4.40M1255.07 2301.63h7.60M1255.07 2269.72h4.40M1255.07 2237.81h7.60M1255.07 2205.91h4.40M1255.07 2174.00h7.60M1255.07 2142.10h4.40M1255.07 2110.19h7.60M1255.07 2078.28h4.40M1255.07 2046.38h7.60M1255.07 2014.47h4.40M1255.07 1982.56h7.60M1255.07 1950.66h4.40"/>
<path stroke-width="1.60" d="M808.44 2338.07L926.64 2345.26M937.62 2345.32L1055.81 2339.50M1066.80 2339.17L1184.98 2337.80"/>
<path d="M802.95 2334.74V2341.10M796.75 2334.74H809.15M796.75 2341.10H809.15" stroke-width="1.90"/>
<path d="M932.13 2342.97V2348.59M925.93 2342.97H938.33M925.93 2348.59H938.33" stroke-width="1.90"/>
<path d="M1061.30 2336.23V2342.22M1055.10 2336.23H1067.50M1055.10 2342.22H1067.50" stroke-width="1.90"/>
<path d="M1190.48 2335.11V2340.35M1184.28 2335.11H1196.68M1184.28 2340.35H1196.68" stroke-width="1.90"/>
<path stroke-width="1.60" d="M808.45 2336.47L926.63 2341.61M933.87 2336.63L1059.57 1959.54M1063.35 1959.43L1188.44 2272.34"/>
<path d="M802.95 2333.61V2339.23M796.75 2333.61H809.15M796.75 2339.23H809.15" stroke-width="1.90"/>
<path d="M932.13 2339.23V2344.85M925.93 2339.23H938.33M925.93 2344.85H938.33" stroke-width="1.90"/>
<path d="M1061.30 1943.09V1966.68M1055.10 1943.09H1067.50M1055.10 1966.68H1067.50" stroke-width="1.90"/>
<path d="M1190.48 2272.96V2280.44M1184.28 2272.96H1196.68M1184.28 2280.44H1196.68" stroke-width="1.90"/>
<path stroke-width="1.60" d="M767.57 1957.32H783.52M793.92 1957.32H809.88M767.57 1988.39H783.52M793.92 1988.39H809.88"/>
</g>
<g fill="#000">
<rect x="799.05" y="2333.43" width="7.80" height="8.60"/>
<path d="M802.95 2329.83L808.05 2339.43L797.85 2339.43Z"/>
<rect x="928.23" y="2341.29" width="7.80" height="8.60"/>
<path d="M932.13 2335.45L937.23 2345.05L927.03 2345.05Z"/>
<rect x="1057.40" y="2334.93" width="7.80" height="8.60"/>
<path d="M1061.30 1947.92L1066.40 1957.52L1056.20 1957.52Z"/>
<rect x="1186.58" y="2333.43" width="7.80" height="8.60"/>
<path d="M1190.48 2271.05L1195.58 2280.65L1185.38 2280.65Z"/>
<rect x="784.82" y="1953.02" width="7.80" height="8.60"/>
<path d="M788.72 1981.99L793.82 1991.59L783.62 1991.59Z"/>
</g>
<g font-weight="bold">
<text transform="translate(724.86 2373.44) scale(0.8000 1)" font-size="26.00" text-anchor="end" stroke="#000" stroke-width="0.12" stroke-linejoin="round">0</text>
<text transform="translate(724.86 2317.60) scale(0.8000 1)" font-size="26.00" text-anchor="end" stroke="#000" stroke-width="0.12" stroke-linejoin="round">2</text>
<text transform="translate(724.86 2261.77) scale(0.8000 1)" font-size="26.00" text-anchor="end" stroke="#000" stroke-width="0.12" stroke-linejoin="round">4</text>
<text transform="translate(724.86 2205.93) scale(0.8000 1)" font-size="26.00" text-anchor="end" stroke="#000" stroke-width="0.12" stroke-linejoin="round">6</text>
<text transform="translate(724.86 2150.10) scale(0.8000 1)" font-size="26.00" text-anchor="end" stroke="#000" stroke-width="0.12" stroke-linejoin="round">8</text>
<text transform="translate(724.86 2094.26) scale(0.8000 1)" font-size="26.00" text-anchor="end" stroke="#000" stroke-width="0.12" stroke-linejoin="round">10</text>
<text transform="translate(724.86 2038.42) scale(0.8000 1)" font-size="26.00" text-anchor="end" stroke="#000" stroke-width="0.12" stroke-linejoin="round">12</text>
<text transform="translate(724.86 1982.59) scale(0.8000 1)" font-size="26.00" text-anchor="end" stroke="#000" stroke-width="0.12" stroke-linejoin="round">14</text>
<text transform="translate(724.86 1926.75) scale(0.8000 1)" font-size="26.00" text-anchor="end" stroke="#000" stroke-width="0.12" stroke-linejoin="round">16</text>
<text transform="translate(802.95 2403.54) scale(0.8000 1)" font-size="30.00" text-anchor="middle" stroke="#000" stroke-width="0.15" stroke-linejoin="round">0 h</text>
<text transform="translate(932.13 2403.54) scale(0.8000 1)" font-size="30.00" text-anchor="middle" stroke="#000" stroke-width="0.15" stroke-linejoin="round">3 h</text>
<text transform="translate(1061.30 2403.54) scale(0.8000 1)" font-size="30.00" text-anchor="middle" stroke="#000" stroke-width="0.15" stroke-linejoin="round">6 h</text>
<text transform="translate(1190.48 2403.54) scale(0.8000 1)" font-size="30.00" text-anchor="middle" stroke="#000" stroke-width="0.15" stroke-linejoin="round">12 h</text>
</g>
<text transform="translate(1268.27 2371.14) scale(0.8000 1)" font-size="19.60" stroke="#000" stroke-width="0.15" stroke-linejoin="round">0</text>
<text transform="translate(1268.27 2307.33) scale(0.8000 1)" font-size="19.60" stroke="#000" stroke-width="0.15" stroke-linejoin="round">5</text>
<text transform="translate(1268.27 2243.51) scale(0.8000 1)" font-size="19.60" stroke="#000" stroke-width="0.15" stroke-linejoin="round">10</text>
<text transform="translate(1268.27 2179.70) scale(0.8000 1)" font-size="19.60" stroke="#000" stroke-width="0.15" stroke-linejoin="round">15</text>
<text transform="translate(1268.27 2115.89) scale(0.8000 1)" font-size="19.60" stroke="#000" stroke-width="0.15" stroke-linejoin="round">20</text>
<text transform="translate(1268.27 2052.08) scale(0.8000 1)" font-size="19.60" stroke="#000" stroke-width="0.15" stroke-linejoin="round">25</text>
<text transform="translate(1268.27 1988.26) scale(0.8000 1)" font-size="19.60" stroke="#000" stroke-width="0.15" stroke-linejoin="round">30</text>
<text transform="translate(1268.27 1924.45) scale(0.8000 1)" font-size="19.60" stroke="#000" stroke-width="0.15" stroke-linejoin="round">35</text>
<text transform="translate(811.75 1966.62) scale(0.8050 1)" font-size="26.00" letter-spacing="0.35" stroke="#000" stroke-width="0.30" stroke-linejoin="round">Mock</text>
<text transform="translate(811.75 1997.69) scale(0.8050 1)" font-size="26.00" letter-spacing="0.35" stroke="#000" stroke-width="0.30" stroke-linejoin="round">MeSA-treated</text>
<text transform="translate(1063.74 1948.82) scale(0.6660 1)" font-size="31.21" text-anchor="middle">***</text>
<text transform="translate(1192.17 2271.38) scale(0.6660 1)" font-size="26.05" text-anchor="middle">**</text>
<text transform="translate(670.10 1896.70) scale(1.0400 1)" font-size="53.00" stroke="#000" stroke-width="1.00" stroke-linejoin="round">(k)</text>
<text transform="translate(739.11 1906.77) scale(0.8492 1)" font-size="51.00" font-weight="bold" font-style="italic" stroke="#000" stroke-width="0.20" stroke-linejoin="round">CaNHL11</text>
<text transform="translate(690.79 2140.78) rotate(-90) scale(1.1880 1)" font-size="24.80" text-anchor="middle" font-weight="bold" stroke="#000" stroke-width="0.15" stroke-linejoin="round"><tspan font-style="italic">CaNHL11</tspan> Relative Expression Level</text>
</g>
<g>
<g fill="none" stroke="#000" stroke-width="1.55">
<path d="M1378.27 1916.13H1912.42M1378.27 2365.06H1912.42M1385.87 1916.13V2369.06M1904.82 1916.13V2369.06"/>
<path stroke-width="1.50" d="M1450.74 2365.06v8.80M1450.74 1916.13v8.20M1580.47 2365.06v8.80M1580.47 1916.13v8.20M1710.21 2365.06v8.80M1710.21 1916.13v8.20M1839.95 2365.06v8.80M1839.95 1916.13v8.20M1515.60 2365.06v4.00M1515.60 1916.13v4.00M1645.34 2365.06v4.00M1645.34 1916.13v4.00M1775.08 2365.06v4.00M1775.08 1916.13v4.00M1385.87 2290.24h-4.00M1385.87 2215.42h-7.60M1385.87 2140.60h-4.00M1385.87 2065.77h-7.60M1385.87 1990.95h-4.00M1904.82 2333.00h4.40M1904.82 2300.93h7.60M1904.82 2268.86h4.40M1904.82 2236.80h7.60M1904.82 2204.73h4.40M1904.82 2172.66h7.60M1904.82 2140.60h4.40M1904.82 2108.53h7.60M1904.82 2076.46h4.40M1904.82 2044.40h7.60M1904.82 2012.33h4.40M1904.82 1980.26h7.60M1904.82 1948.20h4.40"/>
<path stroke-width="1.60" d="M1456.24 2289.84L1574.97 2290.52M1585.94 2291.14L1704.74 2303.82M1715.68 2303.81L1834.48 2290.78"/>
<path d="M1450.74 2283.07V2297.29M1444.54 2283.07H1456.94M1444.54 2297.29H1456.94" stroke-width="1.90"/>
<path d="M1580.47 2285.69V2295.42M1574.27 2285.69H1586.67M1574.27 2295.42H1586.67" stroke-width="1.90"/>
<path d="M1710.21 2301.04V2307.78M1704.01 2301.04H1716.41M1704.01 2307.78H1716.41" stroke-width="1.90"/>
<path d="M1839.95 2284.94V2295.42M1833.75 2284.94H1846.15M1833.75 2295.42H1846.15" stroke-width="1.90"/>
<path stroke-width="1.60" d="M1453.01 2283.67L1578.20 2008.00M1583.30 2007.71L1707.38 2214.70M1715.05 2222.03L1835.11 2286.82"/>
<path d="M1450.74 2281.19V2299.17M1444.54 2281.19H1456.94M1444.54 2299.17H1456.94" stroke-width="1.90"/>
<path d="M1580.47 1970.42V2036.69M1574.27 1970.42H1586.67M1574.27 2036.69H1586.67" stroke-width="1.90"/>
<path d="M1710.21 2213.80V2223.91M1704.01 2213.80H1716.41M1704.01 2223.91H1716.41" stroke-width="1.90"/>
<path d="M1839.95 2283.07V2296.17M1833.75 2283.07H1846.15M1833.75 2296.17H1846.15" stroke-width="1.90"/>
<path stroke-width="1.60" d="M1393.35 1943.09H1409.31M1419.71 1943.09H1435.66M1393.35 1973.42H1409.31M1419.71 1973.42H1435.66"/>
</g>
<g fill="#000">
<rect x="1446.84" y="2285.51" width="7.80" height="8.60"/>
<path d="M1450.74 2282.28L1455.84 2291.88L1445.64 2291.88Z"/>
<rect x="1576.57" y="2286.25" width="7.80" height="8.60"/>
<path d="M1580.47 1996.59L1585.57 2006.19L1575.37 2006.19Z"/>
<rect x="1706.31" y="2300.11" width="7.80" height="8.60"/>
<path d="M1710.21 2213.01L1715.31 2222.61L1705.11 2222.61Z"/>
<rect x="1836.05" y="2285.88" width="7.80" height="8.60"/>
<path d="M1839.95 2283.03L1845.05 2292.63L1834.85 2292.63Z"/>
<rect x="1410.61" y="1938.79" width="7.80" height="8.60"/>
<path d="M1414.51 1967.01L1419.61 1976.61L1409.41 1976.61Z"/>
</g>
<g font-weight="bold">
<text transform="translate(1372.37 2373.06) scale(0.8000 1)" font-size="26.00" text-anchor="end" stroke="#000" stroke-width="0.12" stroke-linejoin="round">0</text>
<text transform="translate(1372.37 2223.42) scale(0.8000 1)" font-size="26.00" text-anchor="end" stroke="#000" stroke-width="0.12" stroke-linejoin="round">2</text>
<text transform="translate(1372.37 2073.77) scale(0.8000 1)" font-size="26.00" text-anchor="end" stroke="#000" stroke-width="0.12" stroke-linejoin="round">4</text>
<text transform="translate(1372.37 1924.13) scale(0.8000 1)" font-size="26.00" text-anchor="end" stroke="#000" stroke-width="0.12" stroke-linejoin="round">6</text>
<text transform="translate(1450.74 2403.16) scale(0.8000 1)" font-size="30.00" text-anchor="middle" stroke="#000" stroke-width="0.15" stroke-linejoin="round">0 h</text>
<text transform="translate(1580.47 2403.16) scale(0.8000 1)" font-size="30.00" text-anchor="middle" stroke="#000" stroke-width="0.15" stroke-linejoin="round">3 h</text>
<text transform="translate(1710.21 2403.16) scale(0.8000 1)" font-size="30.00" text-anchor="middle" stroke="#000" stroke-width="0.15" stroke-linejoin="round">6 h</text>
<text transform="translate(1839.95 2403.16) scale(0.8000 1)" font-size="30.00" text-anchor="middle" stroke="#000" stroke-width="0.15" stroke-linejoin="round">12 h</text>
</g>
<text transform="translate(1918.02 2370.76) scale(0.8000 1)" font-size="19.60" stroke="#000" stroke-width="0.15" stroke-linejoin="round">0</text>
<text transform="translate(1918.02 2306.63) scale(0.8000 1)" font-size="19.60" stroke="#000" stroke-width="0.15" stroke-linejoin="round">5</text>
<text transform="translate(1918.02 2242.50) scale(0.8000 1)" font-size="19.60" stroke="#000" stroke-width="0.15" stroke-linejoin="round">10</text>
<text transform="translate(1918.02 2178.36) scale(0.8000 1)" font-size="19.60" stroke="#000" stroke-width="0.15" stroke-linejoin="round">15</text>
<text transform="translate(1918.02 2114.23) scale(0.8000 1)" font-size="19.60" stroke="#000" stroke-width="0.15" stroke-linejoin="round">20</text>
<text transform="translate(1918.02 2050.10) scale(0.8000 1)" font-size="19.60" stroke="#000" stroke-width="0.15" stroke-linejoin="round">25</text>
<text transform="translate(1918.02 1985.96) scale(0.8000 1)" font-size="19.60" stroke="#000" stroke-width="0.15" stroke-linejoin="round">30</text>
<text transform="translate(1918.02 1921.83) scale(0.8000 1)" font-size="19.60" stroke="#000" stroke-width="0.15" stroke-linejoin="round">35</text>
<text transform="translate(1437.54 1952.39) scale(0.8050 1)" font-size="26.00" letter-spacing="0.35" stroke="#000" stroke-width="0.30" stroke-linejoin="round">Mock</text>
<text transform="translate(1437.54 1982.72) scale(0.8050 1)" font-size="26.00" letter-spacing="0.35" stroke="#000" stroke-width="0.30" stroke-linejoin="round">MeSA-treated</text>
<text transform="translate(1584.69 1975.03) scale(0.6660 1)" font-size="31.21" text-anchor="middle">***</text>
<text transform="translate(1713.49 2215.53) scale(0.6660 1)" font-size="26.71" text-anchor="middle">**</text>
<text transform="translate(1332.80 1894.60) scale(1.0400 1)" font-size="53.00" stroke="#000" stroke-width="1.00" stroke-linejoin="round">(l)</text>
<text transform="translate(1386.24 1904.90) scale(0.8492 1)" font-size="51.00" font-weight="bold" font-style="italic" stroke="#000" stroke-width="0.20" stroke-linejoin="round">CaNHL12</text>
<text transform="translate(1347.65 2139.66) rotate(-90) scale(1.1880 1)" font-size="24.80" text-anchor="middle" font-weight="bold" stroke="#000" stroke-width="0.15" stroke-linejoin="round"><tspan font-style="italic">CaNHL12</tspan> Relative Expression Level</text>
</g>
<text transform="translate(761.00 45.60) scale(0.8750 1)" font-size="67.00" letter-spacing="5.45" stroke="#000" stroke-width="1.70" stroke-linejoin="round" dx="0 0 0 -6.5 0 12.5">MeJA Treatment</text>
<text transform="translate(750.50 1273.00) scale(0.8750 1)" font-size="67.00" letter-spacing="5.45" stroke="#000" stroke-width="1.70" stroke-linejoin="round" dx="0 0 0 -4.5 0 10.5">MeSA Treatment</text>
</svg>
</body>
</html>
